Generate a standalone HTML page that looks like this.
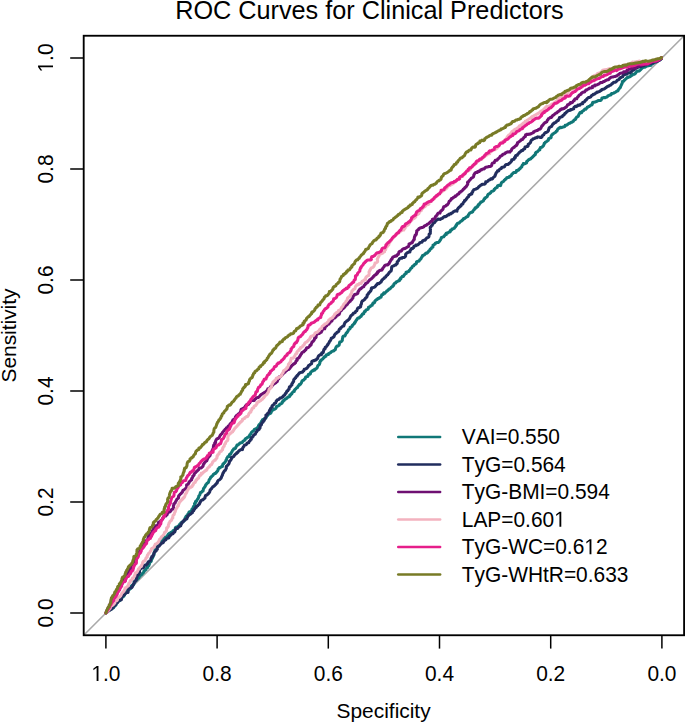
<!DOCTYPE html>
<html><head><meta charset="utf-8"><style>
html,body{margin:0;padding:0;background:#fff;}
svg{display:block;}
path{}
text{font-family:"Liberation Sans",sans-serif;fill:#000;font-kerning:none;font-feature-settings:"kern" 0;}
</style></head><body>
<svg width="685" height="723" viewBox="0 0 685 723">
<rect width="685" height="723" fill="#fff"/>
<line x1="83.66" y1="635.2" x2="684.14" y2="35.8" stroke="#A9A9A9" stroke-width="1.6"/>
<polyline fill="none" stroke="#107777" stroke-width="3.05" stroke-linejoin="round" stroke-linecap="round" points="105.9,613.0 106.5,612.6 107.0,612.1 107.6,611.7 108.1,611.2 108.6,610.8 109.2,610.3 109.8,609.9 110.3,609.5 111.0,609.1 111.8,609.0 112.2,608.4 112.7,607.9 113.6,607.8 113.8,607.0 114.4,606.6 114.8,606.0 115.3,605.5 116.0,605.2 116.1,604.3 116.4,603.6 116.5,602.8 117.0,602.3 117.4,601.6 118.3,601.5 118.6,600.9 119.6,600.8 119.9,600.2 120.5,599.8 120.9,599.2 121.4,598.7 121.6,597.9 122.1,597.5 122.7,597.0 123.3,596.6 123.9,596.2 124.2,595.5 124.6,594.9 124.8,594.2 124.8,593.2 125.4,592.7 125.6,592.0 126.0,591.4 126.9,591.3 127.4,590.8 127.7,590.1 128.3,589.7 129.0,589.4 129.8,589.2 130.0,588.4 130.8,588.3 131.1,587.6 131.2,586.7 131.4,585.8 132.1,585.5 132.7,585.2 133.5,584.9 133.7,584.1 134.0,583.5 134.2,582.7 134.1,581.6 134.5,581.0 135.4,580.9 136.1,580.7 136.4,579.9 137.1,579.7 137.4,579.0 138.0,578.5 138.6,578.2 139.0,577.5 139.2,576.8 139.9,576.4 140.3,575.9 140.6,575.2 141.3,574.9 141.8,574.4 142.4,574.0 142.6,573.2 143.3,572.9 143.6,572.2 144.0,571.6 144.0,570.7 144.8,570.5 145.4,570.0 146.0,569.7 146.0,568.7 146.6,568.2 146.9,567.6 147.7,567.4 147.7,566.4 148.3,566.0 148.9,565.7 149.0,564.7 149.4,564.2 149.5,563.2 149.9,562.6 150.3,562.0 150.9,561.7 151.3,561.0 151.3,560.1 151.7,559.5 152.0,558.7 152.5,558.2 152.5,557.3 153.0,556.8 153.3,556.1 153.5,555.3 154.0,554.8 154.1,553.9 154.1,553.0 154.5,552.3 154.7,551.5 154.9,550.8 155.0,549.9 155.2,549.1 155.7,548.6 156.5,548.4 156.4,547.3 157.1,547.0 157.6,546.5 158.3,546.2 158.7,545.6 158.9,544.9 159.3,544.2 159.5,543.5 159.6,542.5 160.0,542.0 160.6,541.5 161.0,540.9 161.5,540.5 161.6,539.6 162.3,539.3 162.7,538.7 163.2,538.2 163.8,537.8 164.1,537.1 165.2,537.2 165.9,537.0 166.7,536.7 167.2,536.2 167.4,535.4 168.0,535.0 168.2,534.3 168.7,533.8 169.3,533.3 170.1,533.1 170.7,532.7 171.2,532.3 172.1,532.2 172.6,531.6 172.9,531.0 173.3,530.4 174.3,530.4 174.8,529.9 175.2,529.3 175.2,528.3 175.5,527.6 176.1,527.2 176.8,526.9 177.8,526.9 178.1,526.2 178.7,525.8 179.5,525.6 179.4,524.5 180.5,524.6 180.6,523.7 180.8,522.9 181.5,522.6 182.0,522.1 182.8,521.9 183.4,521.5 183.9,521.0 184.3,520.4 184.6,519.7 185.2,519.3 185.1,518.2 185.4,517.5 186.1,517.2 186.1,516.2 186.7,515.8 187.3,515.4 187.7,514.8 187.9,514.0 188.4,513.5 188.8,512.9 189.0,512.1 189.8,511.9 190.4,511.5 190.9,511.0 191.5,510.6 192.1,510.2 192.0,509.1 193.0,509.1 192.9,508.0 193.3,507.4 193.4,506.5 193.9,506.0 194.4,505.5 194.9,505.0 194.5,503.6 195.1,503.2 195.6,502.7 195.5,501.6 196.3,501.4 196.7,500.8 196.9,500.0 197.4,499.5 197.7,498.8 198.2,498.3 198.5,497.6 198.7,496.8 198.8,495.9 199.4,495.5 199.8,494.9 200.0,494.1 200.2,493.3 200.4,492.5 201.3,492.4 201.8,491.9 202.2,491.3 203.0,491.1 203.2,490.3 203.3,489.4 203.5,488.6 204.0,488.1 204.4,487.5 204.7,486.8 205.2,486.3 205.5,485.6 205.7,484.8 206.3,484.4 206.7,483.8 207.1,483.2 207.8,482.9 208.4,482.5 208.6,481.7 208.9,481.0 209.1,480.2 209.3,479.4 209.9,479.0 210.3,478.4 210.6,477.7 210.8,476.9 211.6,476.7 212.0,476.1 212.6,475.7 213.1,475.2 213.3,474.4 214.0,474.1 214.5,473.6 215.4,473.5 216.0,473.1 216.2,472.3 216.7,471.8 217.2,471.3 217.7,470.8 218.0,470.1 218.1,469.2 218.5,468.6 219.2,468.3 219.4,467.5 220.4,467.5 221.0,467.1 221.4,466.5 222.4,466.5 222.5,465.6 222.7,464.8 222.9,464.0 223.7,463.8 224.0,463.1 224.6,462.7 225.1,462.2 225.4,461.5 225.9,461.0 226.0,460.1 226.6,459.7 226.7,458.8 226.9,458.0 227.4,457.5 227.7,456.8 228.5,456.6 229.3,456.4 229.2,455.3 229.6,454.7 229.9,454.0 230.9,454.0 231.1,453.2 231.4,452.5 231.8,451.9 232.2,451.3 232.4,450.5 233.0,450.1 233.4,449.5 233.7,448.8 234.7,448.8 235.3,448.4 235.7,447.8 235.9,447.0 236.4,446.5 236.7,445.8 237.0,445.1 237.9,445.0 238.5,444.6 238.9,444.0 239.6,443.7 240.0,443.1 240.6,442.7 241.7,442.8 242.3,442.4 242.7,441.8 243.0,441.1 243.7,440.8 244.3,440.4 245.0,440.1 245.1,439.2 245.6,438.7 246.2,438.3 246.9,438.0 247.5,437.6 248.0,437.1 248.9,437.0 249.5,436.6 249.5,435.6 249.8,434.9 250.3,434.4 250.9,434.0 251.1,433.2 251.3,432.4 251.9,432.0 252.5,431.6 253.0,431.1 253.6,430.7 254.1,430.2 254.3,429.4 255.0,429.1 255.7,428.8 256.5,428.6 257.0,428.1 257.5,427.6 258.0,427.1 258.5,426.6 258.5,425.6 258.9,425.0 259.3,424.4 259.9,424.0 260.4,423.5 260.8,422.9 261.2,422.3 261.3,421.4 261.9,421.0 262.2,420.3 262.6,419.7 263.3,419.4 264.0,419.1 264.4,418.5 265.3,418.4 265.9,418.0 266.3,417.4 266.5,416.6 266.8,415.9 267.5,415.6 267.4,414.5 268.4,414.5 269.0,414.1 269.4,413.5 270.4,413.5 270.9,413.0 271.1,412.2 271.5,411.6 271.7,410.8 272.0,410.1 273.0,410.1 273.6,409.7 274.1,409.2 274.9,409.0 275.6,408.7 276.0,408.1 276.3,407.4 276.4,406.5 277.2,406.3 277.8,405.9 278.6,405.7 279.2,405.3 279.5,404.6 279.9,404.0 280.9,404.0 281.4,403.5 282.1,403.2 282.1,402.2 282.5,401.6 283.3,401.4 283.4,400.5 284.2,400.3 284.6,399.7 285.0,399.1 285.9,399.0 286.3,398.4 287.1,398.2 287.4,397.5 288.0,397.1 288.8,396.9 289.5,396.6 289.9,396.0 289.8,394.9 290.7,394.8 291.0,394.1 291.8,393.9 292.1,393.2 292.4,392.5 292.9,392.0 293.4,391.5 294.3,391.4 294.3,390.4 294.7,389.8 295.2,389.3 295.8,388.9 296.2,388.3 296.7,387.8 297.5,387.6 297.8,386.9 298.1,386.2 298.5,385.6 299.2,385.3 299.3,384.4 300.3,384.4 300.7,383.8 301.1,383.2 301.5,382.6 301.7,381.8 302.0,381.1 302.5,380.6 303.1,380.2 303.9,380.0 304.3,379.4 304.7,378.8 305.4,378.5 305.4,377.5 305.8,376.9 306.6,376.7 307.5,376.6 308.0,376.1 308.1,375.2 308.4,374.5 309.1,374.2 310.1,374.2 310.5,373.6 310.5,372.6 310.9,372.0 311.5,371.6 312.1,371.2 312.5,370.6 313.5,370.6 313.8,369.9 314.9,370.0 315.0,369.1 315.7,368.8 316.4,368.5 317.0,368.1 317.2,367.3 317.6,366.7 317.7,365.8 318.2,365.3 318.8,364.9 319.4,364.5 319.6,363.7 319.9,363.0 319.8,361.9 320.3,361.4 320.5,360.6 321.3,360.4 321.6,359.7 322.3,359.4 322.7,358.8 323.2,358.3 323.7,357.8 324.0,357.1 324.8,356.9 325.2,356.3 326.1,356.2 326.1,355.2 326.6,354.7 327.5,354.6 328.4,354.5 328.5,353.6 329.2,353.3 329.9,353.0 330.6,352.7 331.1,352.2 331.5,351.6 332.2,351.3 332.9,351.0 333.8,350.9 334.3,350.4 334.7,349.8 335.4,349.5 335.5,348.6 335.8,347.9 336.1,347.2 336.5,346.6 337.0,346.1 337.9,346.0 338.5,345.6 339.1,345.2 339.3,344.4 339.4,343.5 339.6,342.7 339.8,341.9 340.7,341.8 341.4,341.5 341.9,341.0 342.3,340.4 342.3,339.4 342.5,338.6 342.7,337.8 342.8,336.9 343.2,336.3 344.0,336.1 344.9,336.0 345.2,335.3 345.5,334.6 345.9,334.0 346.1,333.2 346.7,332.8 347.2,332.3 347.6,331.7 348.0,331.1 348.3,330.4 348.5,329.6 349.2,329.3 349.8,328.9 350.2,328.3 350.1,327.2 351.1,327.2 351.6,326.7 352.2,326.3 352.3,325.4 352.8,324.9 353.4,324.5 353.8,323.9 354.5,323.6 354.5,322.6 355.2,322.3 355.5,321.6 355.8,320.9 356.2,320.3 356.7,319.8 357.1,319.2 357.4,318.5 357.9,318.0 359.0,318.1 359.6,317.7 359.8,316.9 360.5,316.6 361.2,316.3 361.3,315.4 362.1,315.2 362.2,314.3 362.7,313.8 363.7,313.8 363.8,312.9 364.2,312.3 364.4,311.5 365.3,311.4 365.6,310.7 366.0,310.1 366.6,309.7 367.4,309.5 368.1,309.2 368.4,308.5 368.4,307.5 369.1,307.2 369.7,306.8 370.4,306.5 370.7,305.8 371.3,305.4 372.2,305.3 372.3,304.4 372.8,303.9 373.0,303.1 373.9,303.0 374.5,302.6 374.8,301.9 374.9,301.0 375.5,300.6 376.0,300.1 376.5,299.6 377.4,299.5 377.6,298.7 378.3,298.4 379.2,298.3 379.5,297.6 380.2,297.3 381.1,297.2 381.2,296.3 381.6,295.7 381.7,294.8 382.3,294.4 383.3,294.4 383.4,293.5 383.8,292.9 385.0,293.1 385.3,292.4 385.9,292.0 386.5,291.6 386.8,290.9 387.6,290.7 388.1,290.2 388.6,289.7 389.0,289.1 389.9,289.0 390.4,288.5 390.8,287.9 391.2,287.3 391.8,286.9 392.5,286.6 392.7,285.8 393.5,285.6 393.8,284.9 393.9,284.0 394.4,283.5 395.0,283.1 395.9,283.0 396.1,282.2 396.6,281.7 397.4,281.5 397.9,281.0 398.8,280.9 399.5,280.6 399.6,279.7 400.0,279.1 400.8,278.9 400.7,277.8 401.4,277.5 401.9,277.0 402.3,276.4 403.4,276.5 403.7,275.8 404.1,275.2 404.5,274.6 405.0,274.1 405.6,273.7 406.3,273.4 406.1,272.2 406.9,272.0 407.7,271.8 408.5,271.6 409.1,271.2 409.2,270.3 409.9,270.0 410.3,269.4 410.6,268.7 411.1,268.2 411.8,267.9 412.1,267.2 412.3,266.4 412.9,266.0 413.7,265.8 414.1,265.2 414.6,264.7 415.1,264.2 415.9,264.0 416.4,263.5 416.4,262.5 416.6,261.7 417.4,261.5 418.2,261.3 419.0,261.1 419.4,260.5 419.7,259.8 420.3,259.4 420.8,258.9 421.2,258.3 421.4,257.5 422.0,257.1 422.2,256.3 422.5,255.6 423.4,255.5 423.8,254.9 424.6,254.7 425.0,254.1 425.5,253.6 426.0,253.1 427.0,253.1 427.5,252.6 428.0,252.1 428.5,251.6 428.8,250.9 429.6,250.7 429.9,250.0 430.1,249.2 430.7,248.8 431.4,248.5 431.6,247.7 432.3,247.4 432.9,247.0 433.0,246.1 433.0,245.1 433.7,244.8 434.3,244.4 435.0,244.1 435.2,243.3 436.0,243.1 436.6,242.7 437.3,242.4 438.3,242.4 438.9,242.0 439.4,241.5 439.8,240.9 440.1,240.2 440.6,239.7 440.9,239.0 441.2,238.3 441.3,237.4 442.2,237.3 442.8,236.9 443.7,236.8 444.1,236.2 444.6,235.7 445.0,235.1 445.3,234.4 446.3,234.4 446.2,233.3 447.0,233.1 447.9,233.0 448.3,232.4 448.9,232.0 449.8,231.9 450.4,231.5 450.4,230.5 450.8,229.9 451.7,229.8 452.0,229.1 452.9,229.0 453.4,228.5 454.2,228.3 454.6,227.7 455.1,227.2 455.6,226.7 455.7,225.8 456.5,225.6 456.5,224.6 457.1,224.2 457.4,223.5 458.1,223.2 459.0,223.1 459.5,222.6 459.9,222.0 460.5,221.6 461.1,221.2 461.8,220.9 462.1,220.2 462.9,220.0 463.1,219.2 463.5,218.6 464.5,218.6 465.0,218.1 465.6,217.7 466.1,217.2 466.7,216.8 467.6,216.7 468.1,216.2 468.2,215.3 468.6,214.7 469.1,214.2 469.4,213.5 469.8,212.9 470.6,212.7 471.2,212.3 472.1,212.2 472.7,211.8 472.9,211.0 473.4,210.5 473.8,209.9 474.3,209.4 475.0,209.1 475.0,208.1 475.5,207.6 476.5,207.6 476.7,206.8 477.5,206.6 478.0,206.1 478.1,205.2 478.4,204.5 479.3,204.4 479.6,203.7 480.1,203.2 480.6,202.7 480.8,201.9 481.7,201.8 482.4,201.5 483.0,201.1 483.5,200.6 483.8,199.9 484.1,199.2 484.8,198.9 484.8,197.9 485.6,197.7 486.2,197.3 486.8,196.9 487.3,196.4 487.5,195.6 487.8,194.9 488.2,194.3 488.8,193.9 489.6,193.7 490.1,193.2 490.7,192.8 490.9,192.0 491.5,191.6 492.1,191.2 492.9,191.0 493.6,190.7 494.1,190.2 494.2,189.3 495.0,189.1 495.2,188.3 495.8,187.9 496.5,187.6 497.2,187.3 497.4,186.5 497.6,185.7 498.4,185.5 499.2,185.3 500.5,185.6 500.8,184.9 501.0,184.1 501.2,183.3 501.6,182.7 502.0,182.1 502.7,181.8 503.4,181.5 503.9,181.0 504.2,180.3 504.8,179.9 505.2,179.3 506.0,179.1 506.4,178.5 506.7,177.8 507.5,177.6 508.3,177.4 509.2,177.3 509.4,176.5 510.1,176.2 510.9,176.0 511.4,175.5 511.6,174.7 512.0,174.1 512.6,173.7 513.1,173.2 513.6,172.7 514.3,172.4 515.3,172.4 516.1,172.2 516.4,171.5 516.4,170.5 517.4,170.5 518.2,170.3 518.8,169.9 518.9,169.0 519.8,168.9 520.3,168.4 520.6,167.7 521.2,167.3 521.8,166.9 521.9,166.0 522.2,165.3 522.7,164.8 523.3,164.4 523.4,163.5 524.6,163.7 525.4,163.5 526.0,163.1 526.7,162.8 526.6,161.7 527.1,161.2 527.7,160.8 528.1,160.2 528.7,159.8 529.2,159.3 530.1,159.2 530.8,158.9 531.1,158.2 531.8,157.9 532.2,157.3 532.7,156.8 533.2,156.3 533.7,155.8 534.2,155.3 534.8,154.9 535.4,154.5 535.3,153.4 535.8,152.9 536.1,152.2 537.0,152.1 537.6,151.7 537.9,151.0 538.5,150.6 539.1,150.2 539.8,149.9 539.7,148.8 540.2,148.3 540.4,147.5 541.3,147.4 542.0,147.1 542.5,146.6 543.0,146.1 543.5,145.6 543.8,144.9 544.1,144.2 544.2,143.3 545.0,143.1 545.2,142.3 545.8,141.9 546.5,141.6 547.1,141.2 547.6,140.7 548.2,140.3 548.5,139.6 548.6,138.7 549.3,138.4 550.0,138.1 550.7,137.8 551.2,137.3 551.1,136.2 551.5,135.6 551.8,134.9 552.5,134.6 552.8,133.9 553.5,133.6 554.1,133.2 554.7,132.8 555.3,132.4 555.9,132.0 556.2,131.3 557.0,131.1 557.2,130.3 557.5,129.6 557.9,129.0 558.6,128.7 558.9,128.0 559.9,128.0 560.2,127.3 561.5,127.6 562.2,127.3 563.0,127.1 563.7,126.8 564.6,126.7 565.0,126.1 565.2,125.3 566.1,125.2 566.9,125.0 567.5,124.6 568.0,124.1 568.6,123.7 569.2,123.3 570.1,123.2 570.6,122.7 571.2,122.3 572.1,122.2 572.6,121.7 573.3,121.4 573.6,120.7 574.1,120.2 574.6,119.7 575.4,119.5 575.8,118.9 575.9,118.0 576.5,117.6 576.8,116.9 577.6,116.7 578.2,116.3 578.5,115.6 578.7,114.8 579.1,114.2 579.5,113.6 579.8,112.9 580.3,112.4 581.6,112.7 581.8,111.9 582.2,111.3 582.9,111.0 583.6,110.7 584.0,110.1 584.5,109.6 584.9,109.0 586.0,109.1 586.3,108.4 586.9,108.0 587.2,107.3 588.0,107.1 588.4,106.5 589.4,106.5 589.8,105.9 590.4,105.5 591.0,105.1 591.8,104.9 592.3,104.4 592.4,103.5 592.6,102.7 593.1,102.2 594.1,102.2 595.0,102.1 595.7,101.8 596.5,101.6 597.1,101.2 597.7,100.8 598.4,100.5 599.4,100.5 600.4,100.5 601.1,100.2 601.4,99.5 601.9,99.0 601.9,98.0 602.8,97.9 603.5,97.6 604.5,97.6 605.5,97.6 606.1,97.2 606.9,97.0 607.5,96.6 607.8,95.9 608.5,95.6 609.2,95.3 609.9,95.0 610.9,95.0 611.3,94.4 611.5,93.6 612.3,93.4 613.2,93.3 613.9,93.0 614.5,92.6 615.2,92.3 615.8,91.9 616.4,91.5 616.9,91.0 617.8,90.9 618.2,90.3 618.4,89.5 619.0,89.1 619.4,88.5 619.7,87.8 620.4,87.5 620.6,86.7 620.9,86.0 621.2,85.3 621.5,84.6 621.8,83.9 622.2,83.3 622.3,82.4 622.4,81.5 623.4,81.5 623.9,81.0 624.2,80.3 624.8,79.9 625.3,79.4 625.9,78.9 626.4,78.4 626.9,77.9 627.4,77.3 628.4,77.4 629.0,76.9 629.8,76.7 630.5,76.5 630.7,75.6 631.6,75.5 632.3,75.2 632.5,74.3 633.5,74.3 634.4,74.2 635.0,73.8 635.5,73.2 635.8,72.6 636.3,72.1 636.8,71.5 637.6,71.3 638.3,71.0 639.2,70.9 639.8,70.5 640.3,70.0 640.8,69.4 641.3,68.9 641.8,68.4 642.4,68.0 643.0,67.6 643.6,67.1 644.8,67.3 645.4,66.9 646.0,66.5 646.6,66.1 647.5,65.9 648.3,65.8 649.0,65.5 650.0,65.4 650.9,65.3 651.3,64.7 651.8,64.1 652.3,63.7 653.1,63.5 653.7,63.1 654.2,62.5 654.9,62.1 655.6,61.9 656.4,61.6 657.1,61.3 657.8,61.0 658.5,60.7 659.1,60.3 659.7,59.8 660.2,59.3 660.8,58.9 661.4,58.5 661.4,57.5"/>
<polyline fill="none" stroke="#212D5E" stroke-width="3.05" stroke-linejoin="round" stroke-linecap="round" points="105.9,613.0 106.4,612.5 107.0,612.1 107.6,611.7 108.1,611.2 108.6,610.7 109.3,610.4 109.9,610.1 110.6,609.7 111.2,609.4 111.6,608.8 112.3,608.5 112.6,607.7 113.0,607.2 113.5,606.7 113.6,605.8 114.1,605.3 115.0,605.3 115.5,604.7 115.7,603.9 116.2,603.4 116.9,603.1 117.4,602.7 117.9,602.1 118.0,601.2 118.6,600.8 119.2,600.4 119.9,600.2 120.8,600.1 121.4,599.7 121.5,598.8 121.6,597.9 121.8,597.1 122.3,596.6 122.5,595.9 123.3,595.6 123.8,595.1 124.3,594.6 124.9,594.2 125.4,593.7 125.4,592.8 126.4,592.8 127.2,592.6 128.0,592.4 128.2,591.6 128.2,590.6 128.2,589.6 128.4,588.8 129.0,588.4 129.6,588.1 130.4,587.8 131.3,587.8 131.8,587.3 132.3,586.8 132.6,586.1 132.9,585.4 133.0,584.5 133.5,584.0 134.0,583.5 134.3,582.8 134.4,581.9 134.9,581.4 135.6,581.1 135.9,580.4 136.3,579.8 136.4,579.0 136.6,578.2 136.8,577.4 137.0,576.6 137.2,575.7 137.6,575.1 138.2,574.8 138.3,573.9 139.0,573.6 139.3,572.9 139.6,572.2 139.5,571.1 139.3,570.0 140.0,569.6 140.3,568.9 141.0,568.6 141.6,568.2 142.2,567.8 143.1,567.8 143.7,567.4 143.5,566.1 143.7,565.3 144.5,565.2 145.7,565.3 146.3,565.0 146.7,564.4 147.0,563.7 147.8,563.5 147.9,562.6 148.2,561.9 148.8,561.6 149.4,561.1 149.9,560.6 150.6,560.4 150.8,559.5 150.9,558.6 151.2,558.0 151.6,557.3 151.8,556.6 152.7,556.5 152.8,555.6 153.3,555.1 153.5,554.3 153.9,553.7 154.1,552.9 154.3,552.1 155.0,551.9 155.3,551.2 156.2,551.0 156.4,550.2 156.7,549.6 157.4,549.3 157.3,548.2 157.4,547.2 157.9,546.8 158.5,546.4 159.2,546.1 159.6,545.5 159.7,544.7 160.5,544.4 161.1,544.0 161.3,543.3 161.9,542.8 162.9,542.8 163.4,542.4 163.6,541.6 164.1,541.0 164.5,540.5 165.1,540.1 165.9,539.8 166.1,539.1 166.5,538.5 167.3,538.3 168.0,538.0 168.8,537.9 169.0,537.0 169.2,536.3 170.0,536.1 170.3,535.3 170.9,535.0 171.4,534.5 171.8,533.8 172.7,533.8 173.2,533.3 173.6,532.7 174.2,532.3 174.8,531.9 175.0,531.1 175.3,530.4 175.5,529.6 175.6,528.7 176.4,528.5 177.3,528.4 178.1,528.2 178.2,527.3 178.8,526.9 179.5,526.6 179.9,526.0 180.7,525.8 180.9,525.0 181.2,524.3 181.6,523.7 181.9,523.0 182.2,522.3 183.0,522.1 183.3,521.4 183.7,520.8 184.0,520.1 185.1,520.2 185.3,519.4 185.9,519.0 186.9,519.0 187.1,518.2 187.3,517.4 187.7,516.8 187.8,515.9 188.6,515.7 188.9,515.0 189.6,514.7 190.2,514.3 190.7,513.8 191.4,513.5 191.8,512.9 192.5,512.6 192.6,511.7 192.9,511.0 193.7,510.8 193.7,509.8 194.3,509.4 194.8,508.9 195.1,508.2 195.4,507.5 196.3,507.4 196.4,506.5 197.1,506.2 197.7,505.8 198.1,505.2 198.6,504.7 199.2,504.3 199.6,503.7 199.7,502.8 200.2,502.3 200.5,501.6 200.8,500.9 201.3,500.4 201.9,500.0 202.8,499.9 203.3,499.4 203.8,498.9 204.4,498.5 205.0,498.1 205.0,497.1 205.3,496.4 205.5,495.6 206.1,495.2 206.9,495.0 207.5,494.6 207.8,493.9 208.5,493.6 208.8,492.9 209.4,492.5 209.7,491.8 209.9,491.0 210.1,490.2 210.6,489.7 211.0,489.1 211.6,488.7 211.8,487.9 212.4,487.5 212.7,486.8 213.4,486.5 214.1,486.2 214.5,485.6 215.0,485.1 215.5,484.6 216.0,484.1 216.4,483.5 217.1,483.2 217.4,482.5 217.4,481.5 217.9,481.0 218.3,480.4 219.0,480.1 219.6,479.7 220.1,479.2 220.6,478.7 221.1,478.2 221.4,477.5 221.6,476.7 221.9,476.0 222.4,475.5 222.4,474.5 222.8,473.9 223.0,473.1 223.5,472.6 223.7,471.8 224.2,471.3 224.6,470.7 225.3,470.4 225.6,469.7 225.9,469.0 226.3,468.4 226.2,467.3 226.3,466.4 227.0,466.1 227.4,465.5 227.8,464.9 228.4,464.5 228.8,463.9 229.1,463.2 229.4,462.5 229.3,461.4 230.0,461.1 230.4,460.5 230.8,459.9 231.2,459.3 231.5,458.6 231.4,457.5 231.9,457.0 232.9,457.0 233.6,456.7 234.0,456.1 234.3,455.4 234.8,454.9 235.3,454.4 235.8,453.9 236.5,453.6 236.7,452.8 237.5,452.6 238.0,452.1 238.4,451.5 238.8,450.9 239.4,450.5 240.1,450.2 240.7,449.8 241.3,449.4 242.5,449.6 242.6,448.7 242.7,447.8 243.2,447.3 243.6,446.7 244.1,446.2 244.3,445.4 244.8,444.9 245.7,444.8 246.4,444.5 246.7,443.8 247.1,443.2 247.8,442.9 248.7,442.8 248.9,442.0 249.2,441.3 249.9,441.0 250.3,440.4 250.6,439.7 251.3,439.4 251.3,438.4 251.6,437.7 252.3,437.4 252.6,436.7 253.2,436.3 253.3,435.4 253.9,435.0 254.4,434.5 255.2,434.3 255.5,433.6 255.8,432.9 256.1,432.2 256.7,431.8 256.9,431.0 257.2,430.3 258.1,430.2 258.6,429.7 259.2,429.3 259.4,428.5 260.0,428.1 260.1,427.2 260.1,426.2 260.3,425.4 261.0,425.1 261.5,424.6 261.6,423.7 261.9,423.0 262.4,422.5 263.1,422.2 263.0,421.1 263.7,420.8 264.3,420.4 264.5,419.6 264.8,418.9 265.2,418.3 265.5,417.6 265.9,417.0 266.0,416.1 265.9,415.0 266.8,414.9 267.2,414.3 267.5,413.6 268.0,413.1 268.6,412.7 269.1,412.2 269.2,411.3 269.5,410.6 269.8,409.9 270.3,409.4 270.5,408.6 271.0,408.1 271.4,407.5 272.2,407.3 272.0,406.1 272.4,405.5 273.0,405.1 273.6,404.7 274.1,404.2 274.4,403.5 275.1,403.2 275.7,402.8 276.0,402.1 276.1,401.2 276.7,400.8 277.0,400.1 277.6,399.7 278.5,399.6 279.0,399.1 279.5,398.6 280.0,398.1 280.8,397.9 281.6,397.7 282.1,397.2 282.7,396.8 283.2,396.3 283.6,395.7 284.3,395.4 284.8,394.9 285.1,394.2 285.3,393.4 286.1,393.2 286.4,392.5 286.6,391.7 287.1,391.2 287.8,390.9 287.9,390.0 288.5,389.6 289.1,389.2 289.2,388.3 289.3,387.4 289.6,386.7 290.5,386.6 290.7,385.8 291.3,385.4 291.9,385.0 291.8,383.9 292.2,383.3 292.7,382.8 292.9,382.0 293.6,381.7 293.7,380.8 293.7,379.8 294.1,379.2 294.7,378.8 295.0,378.1 295.7,377.8 295.9,377.0 296.3,376.4 297.2,376.3 297.2,375.3 297.9,375.0 298.3,374.4 298.7,373.8 299.3,373.4 299.6,372.7 300.5,372.6 301.2,372.3 302.2,372.3 302.8,371.9 303.1,371.2 303.8,370.9 303.9,370.0 304.2,369.3 305.1,369.2 305.8,368.9 306.3,368.4 307.1,368.2 307.4,367.5 308.0,367.1 308.2,366.3 308.6,365.7 309.1,365.2 309.9,365.0 310.3,364.4 311.0,364.1 311.6,363.7 311.7,362.8 311.7,361.8 312.1,361.2 312.9,361.0 313.5,360.6 314.5,360.6 315.0,360.1 315.9,360.0 316.5,359.6 316.8,358.9 317.5,358.6 317.8,357.9 318.0,357.1 318.3,356.4 318.7,355.8 319.2,355.3 319.9,355.0 320.5,354.6 321.5,354.6 321.5,353.6 321.8,352.9 322.9,353.0 323.3,352.4 323.4,351.5 323.6,350.7 323.8,349.9 324.1,349.2 325.0,349.1 325.0,348.1 325.2,347.3 326.0,347.1 326.4,346.5 326.9,346.0 327.2,345.3 327.8,344.9 327.9,344.0 328.5,343.6 328.9,343.0 329.2,342.3 329.4,341.5 330.0,341.1 330.4,340.5 330.7,339.8 331.1,339.2 331.2,338.3 331.8,337.9 332.6,337.7 333.2,337.3 333.7,336.8 334.2,336.3 334.3,335.4 334.7,334.8 335.1,334.2 335.6,333.7 336.3,333.4 336.7,332.8 337.1,332.2 337.9,332.0 338.5,331.6 338.9,331.0 339.0,330.1 339.3,329.4 339.8,328.9 340.5,328.6 340.7,327.8 341.3,327.4 341.9,327.0 342.4,326.5 342.9,326.0 343.8,325.9 344.1,325.2 344.2,324.3 344.6,323.7 344.8,322.9 345.2,322.3 345.8,321.9 346.4,321.5 346.8,320.9 347.5,320.6 348.0,320.1 348.6,319.7 349.1,319.2 349.5,318.6 349.8,317.9 350.2,317.3 350.4,316.5 350.8,315.9 351.3,315.4 352.0,315.1 352.4,314.5 353.1,314.2 353.3,313.4 353.8,312.9 354.7,312.8 355.3,312.4 355.5,311.6 356.1,311.2 356.7,310.8 357.0,310.1 357.2,309.3 357.6,308.7 357.9,308.0 358.7,307.8 359.4,307.5 360.0,307.1 360.7,306.8 360.6,305.7 360.8,304.9 361.3,304.4 361.4,303.5 361.6,302.7 361.7,301.8 362.2,301.3 362.6,300.7 363.4,300.5 363.9,300.0 364.5,299.6 365.0,299.1 365.3,298.4 365.7,297.8 366.4,297.5 366.9,297.0 367.1,296.2 367.1,295.2 367.6,294.7 368.1,294.2 368.5,293.6 368.7,292.8 369.3,292.4 369.9,292.0 370.2,291.3 370.8,290.9 371.0,290.1 371.4,289.5 371.3,288.4 371.7,287.8 372.7,287.8 373.3,287.4 374.2,287.3 374.8,286.9 375.3,286.4 375.8,285.9 376.1,285.2 376.7,284.8 377.0,284.1 377.5,283.6 378.7,283.8 379.3,283.4 379.7,282.8 380.4,282.5 381.0,282.1 381.4,281.5 381.6,280.7 382.1,280.2 382.5,279.6 383.0,279.1 383.6,278.7 384.2,278.3 384.5,277.6 385.2,277.3 385.8,276.9 386.0,276.1 386.6,275.7 387.1,275.2 387.7,274.8 388.0,274.1 388.5,273.6 389.0,273.1 389.2,272.3 389.9,272.0 390.4,271.5 391.0,271.1 391.3,270.4 391.4,269.5 391.6,268.7 391.6,267.7 391.8,266.9 392.3,266.4 393.0,266.1 393.7,265.8 394.4,265.5 395.0,265.1 395.9,265.0 396.2,264.3 396.8,263.9 397.3,263.4 397.1,262.2 397.5,261.6 398.0,261.1 398.5,260.6 398.9,260.0 399.2,259.3 399.6,258.7 400.3,258.4 401.0,258.1 402.0,258.1 402.3,257.4 403.3,257.4 404.4,257.5 404.8,256.9 405.4,256.5 405.7,255.8 405.6,254.7 405.8,253.9 406.4,253.5 407.0,253.1 407.5,252.6 408.2,252.3 408.9,252.0 409.9,252.0 410.0,251.1 410.3,250.4 410.7,249.8 411.0,249.1 411.4,248.5 412.5,248.6 412.9,248.0 413.6,247.7 413.8,246.9 414.1,246.2 414.9,246.0 415.7,245.8 415.9,245.0 417.0,245.1 417.7,244.8 418.2,244.3 418.9,244.0 419.4,243.5 419.7,242.8 420.3,242.4 421.2,242.3 422.1,242.2 422.3,241.4 422.7,240.8 423.3,240.4 424.1,240.2 425.1,240.2 425.5,239.6 425.8,238.9 426.4,238.5 426.8,237.9 427.5,237.6 428.2,237.3 428.8,236.9 429.0,236.1 429.1,235.2 429.1,234.2 429.7,233.8 430.3,233.4 430.3,232.4 430.4,231.5 430.3,230.4 430.5,229.6 430.3,228.4 430.2,227.3 430.7,226.8 431.2,226.3 431.5,225.6 432.2,225.3 432.4,224.5 433.0,224.1 433.2,223.3 433.6,222.7 434.5,222.6 434.8,221.9 435.4,221.5 435.7,220.8 436.1,220.2 436.8,219.9 437.6,219.7 437.9,219.0 439.2,219.3 440.3,219.4 440.7,218.8 441.6,218.7 442.3,218.4 442.8,217.9 443.2,217.3 443.9,217.0 444.5,216.6 445.6,216.7 446.3,216.4 446.7,215.8 447.2,215.3 447.9,215.0 448.8,214.9 449.1,214.2 449.8,213.9 450.8,213.9 451.1,213.2 452.0,213.1 452.5,212.6 453.1,212.2 453.5,211.6 454.2,211.3 454.9,211.0 455.7,210.8 457.0,211.1 457.0,210.1 457.4,209.5 457.7,208.8 458.2,208.3 458.6,207.7 459.2,207.3 459.7,206.8 460.2,206.3 461.0,206.1 461.1,205.2 461.5,204.6 462.1,204.2 462.9,204.0 463.1,203.2 463.3,202.4 463.9,202.0 464.4,201.5 464.5,200.6 465.3,200.4 465.8,199.9 466.2,199.3 466.6,198.7 467.1,198.2 467.4,197.5 468.0,197.1 468.6,196.7 468.8,195.9 468.9,195.0 469.8,194.9 470.2,194.3 471.2,194.3 471.8,193.9 471.7,192.8 472.4,192.5 472.7,191.8 472.8,190.9 473.4,190.5 473.7,189.8 474.3,189.4 475.2,189.3 476.0,189.1 476.6,188.7 477.2,188.3 477.9,188.0 478.3,187.4 478.7,186.8 479.2,186.3 479.9,186.0 480.4,185.5 481.0,185.1 481.7,184.8 482.1,184.2 483.1,184.2 484.1,184.2 484.9,184.0 485.4,183.5 485.6,182.7 485.7,181.8 486.7,181.8 487.4,181.5 488.0,181.1 488.3,180.4 488.9,180.0 489.7,179.8 490.4,179.5 490.7,178.8 492.0,179.1 492.6,178.7 492.8,177.9 493.4,177.5 493.9,177.0 494.5,176.6 495.0,176.1 495.1,175.2 495.6,174.7 495.7,173.8 496.1,173.2 496.4,172.5 497.0,172.1 497.4,171.5 497.6,170.7 498.7,170.8 499.0,170.1 499.4,169.5 500.0,169.1 500.6,168.7 501.4,168.5 501.6,167.7 502.1,167.2 503.1,167.2 503.8,166.9 504.6,166.7 504.9,166.0 505.2,165.3 505.7,164.8 506.5,164.6 507.4,164.5 508.4,164.5 508.6,163.7 509.2,163.3 509.9,163.0 510.4,162.5 510.9,162.0 511.3,161.4 511.7,160.8 511.7,159.8 512.6,159.7 513.2,159.3 514.1,159.2 514.4,158.5 514.4,157.5 515.4,157.5 515.4,156.5 515.6,155.7 516.3,155.4 517.2,155.3 517.5,154.6 518.0,154.1 518.4,153.5 519.0,153.1 519.3,152.4 519.9,152.0 520.6,151.7 521.0,151.1 521.4,150.5 522.5,150.6 523.0,150.1 523.3,149.4 523.9,149.0 524.7,148.8 524.9,148.0 525.0,147.1 525.8,146.9 526.5,146.6 527.3,146.4 528.1,146.2 528.2,145.3 528.2,144.3 528.8,143.9 529.5,143.6 529.9,143.0 530.5,142.6 530.7,141.8 530.9,141.0 531.3,140.4 531.8,139.9 532.5,139.6 532.9,139.0 533.6,138.7 534.4,138.5 535.1,138.2 535.6,137.7 536.7,137.8 537.1,137.2 537.8,136.9 539.0,137.1 540.3,137.4 541.3,137.4 541.9,137.0 542.0,136.1 542.5,135.6 543.1,135.2 543.7,134.8 544.0,134.1 544.4,133.5 545.0,133.1 545.5,132.6 546.3,132.4 547.0,132.1 547.6,131.7 548.0,131.1 548.5,130.6 548.5,129.6 548.9,129.0 549.0,128.1 549.5,127.6 550.1,127.2 550.7,126.8 551.5,126.6 551.8,125.9 552.2,125.3 552.6,124.7 552.9,124.0 553.7,123.8 553.8,122.9 554.7,122.8 555.4,122.5 556.1,122.2 556.4,121.5 557.0,121.1 557.4,120.5 558.3,120.4 558.6,119.7 558.9,119.0 559.4,118.5 559.4,117.5 560.4,117.5 560.9,117.0 561.7,116.8 562.4,116.5 562.6,115.7 563.2,115.3 564.0,115.1 564.3,114.4 564.7,113.8 565.1,113.2 565.9,113.0 566.3,112.4 566.7,111.8 567.3,111.4 567.9,111.0 568.3,110.4 569.3,110.4 570.2,110.3 570.5,109.6 571.5,109.6 572.2,109.3 572.9,109.0 573.7,108.8 573.9,108.0 574.1,107.2 574.8,106.9 575.2,106.3 576.5,106.6 576.9,106.0 577.7,105.8 578.0,105.1 579.1,105.2 580.1,105.2 580.3,104.4 581.0,104.1 581.6,103.7 582.6,103.7 582.6,102.7 583.1,102.2 584.0,102.1 584.5,101.6 585.0,101.1 585.3,100.4 586.0,100.1 586.5,99.6 586.8,98.9 587.4,98.5 587.9,98.0 588.5,97.6 589.3,97.4 590.1,97.2 590.8,96.9 591.1,96.2 591.6,95.7 592.1,95.2 592.9,95.0 593.2,94.3 594.2,94.3 594.7,93.8 595.4,93.5 595.8,92.9 596.6,92.7 597.0,92.1 598.0,92.1 598.6,91.7 599.4,91.5 600.1,91.2 600.5,90.6 601.4,90.5 601.6,89.7 602.3,89.4 603.1,89.2 604.0,89.1 604.6,88.7 605.1,88.2 605.8,87.9 606.2,87.3 606.9,87.0 607.4,86.5 608.2,86.3 608.9,86.0 609.5,85.6 610.1,85.2 610.9,85.0 611.4,84.5 611.8,83.9 612.3,83.4 613.1,83.2 613.4,82.5 614.2,82.3 615.2,82.3 615.8,81.9 616.4,81.5 616.8,80.9 617.2,80.3 617.8,79.9 618.6,79.7 619.2,79.3 619.5,78.6 620.0,78.1 620.4,77.5 621.4,77.5 621.8,76.9 622.7,76.8 622.9,75.9 623.1,75.1 624.0,75.0 624.4,74.4 625.5,74.4 626.2,74.2 627.2,74.1 627.4,73.4 628.2,73.1 628.8,72.7 629.9,72.8 630.5,72.3 631.2,72.0 631.7,71.5 631.9,70.7 632.7,70.5 633.3,70.1 634.1,69.8 634.5,69.3 635.2,68.9 635.7,68.4 636.3,67.9 637.0,67.7 637.6,67.3 638.6,67.2 639.1,66.7 639.8,66.4 640.9,66.5 641.6,66.1 642.0,65.5 643.2,65.7 644.0,65.5 644.6,65.1 645.2,64.7 646.3,64.7 646.9,64.3 647.3,63.8 648.4,63.8 649.3,63.7 650.3,63.7 651.0,63.4 651.9,63.3 652.5,62.8 653.2,62.5 654.0,62.3 654.8,62.1 655.8,62.0 656.6,61.8 657.1,61.4 657.8,61.0 658.5,60.7 659.2,60.4 659.9,60.0 660.4,59.6 660.9,59.1 661.5,58.6 661.4,57.5"/>
<polyline fill="none" stroke="#6E1072" stroke-width="3.05" stroke-linejoin="round" stroke-linecap="round" points="105.9,613.0 106.2,612.3 106.5,611.7 106.8,610.9 107.1,610.2 107.4,609.6 107.7,608.9 108.2,608.3 108.2,607.4 108.8,607.0 109.5,606.6 109.6,605.7 109.8,605.0 110.0,604.2 110.2,603.4 110.8,603.0 111.0,602.2 111.1,601.3 111.6,600.8 112.3,600.5 112.5,599.7 112.9,599.1 112.8,598.1 113.4,597.7 114.3,597.6 114.8,597.1 115.2,596.4 115.0,595.2 115.2,594.5 115.0,593.3 115.6,592.9 116.4,592.7 117.1,592.4 117.5,591.8 117.9,591.3 118.1,590.5 118.6,589.9 119.0,589.4 119.4,588.8 119.1,587.5 119.6,587.0 120.1,586.5 120.4,585.7 120.9,585.3 121.6,585.0 121.5,583.9 122.2,583.6 122.5,582.9 122.7,582.1 123.2,581.6 123.5,580.9 123.8,580.3 124.0,579.5 124.3,578.8 124.5,578.0 124.8,577.3 124.9,576.4 125.0,575.5 125.7,575.1 126.0,574.5 126.5,574.0 127.3,573.8 127.8,573.3 128.2,572.7 128.2,571.7 128.8,571.3 129.2,570.8 129.9,570.4 130.2,569.8 130.5,569.1 130.4,567.9 130.9,567.5 130.9,566.5 131.2,565.8 131.7,565.3 132.1,564.7 132.5,564.1 133.0,563.6 132.9,562.5 133.3,561.9 134.0,561.6 134.6,561.3 134.6,560.3 135.2,559.9 135.7,559.4 135.8,558.5 135.8,557.5 136.1,556.8 136.8,556.5 137.3,556.0 137.5,555.2 137.9,554.6 138.5,554.2 138.9,553.6 139.2,552.9 139.7,552.4 139.6,551.3 140.1,550.9 140.2,549.9 140.6,549.3 141.1,548.9 141.5,548.3 141.7,547.5 142.0,546.8 142.7,546.4 142.7,545.5 142.8,544.6 143.3,544.1 143.9,543.7 144.2,543.0 144.4,542.2 144.9,541.7 145.1,540.9 146.0,540.8 146.6,540.5 147.5,540.3 147.6,539.4 147.8,538.7 148.1,538.0 148.1,537.0 148.4,536.3 149.0,535.9 149.1,535.0 149.4,534.4 150.2,534.2 150.7,533.6 151.3,533.2 151.7,532.6 151.9,531.8 152.2,531.2 152.7,530.6 152.9,529.9 153.3,529.3 153.6,528.6 154.0,528.0 154.8,527.8 155.4,527.4 155.4,526.4 155.8,525.8 156.7,525.7 157.6,525.6 157.7,524.7 158.2,524.3 158.6,523.7 158.4,522.5 159.0,522.0 160.0,522.0 160.3,521.3 160.7,520.7 161.4,520.5 161.8,519.9 162.2,519.3 162.8,518.9 162.9,518.0 163.5,517.6 163.7,516.8 164.2,516.3 165.0,516.1 165.9,516.0 166.2,515.3 166.8,514.9 167.3,514.4 167.3,513.4 167.8,512.9 168.3,512.4 168.9,512.0 169.9,512.0 170.4,511.5 170.8,510.9 171.2,510.3 171.6,509.7 172.1,509.2 173.0,509.1 173.1,508.2 173.6,507.7 173.4,506.5 173.4,505.5 173.9,505.0 173.8,503.9 174.3,503.4 175.1,503.2 175.3,502.4 175.6,501.7 176.0,501.1 176.3,500.4 176.7,499.8 177.0,499.1 177.6,498.7 178.2,498.3 178.6,497.7 178.5,496.6 178.7,495.8 179.2,495.3 179.8,494.9 180.1,494.2 180.7,493.8 181.3,493.4 181.6,492.7 182.2,492.3 182.6,491.7 182.7,490.8 183.1,490.2 183.9,490.0 184.4,489.5 184.9,489.0 185.6,488.7 186.2,488.3 186.7,487.8 186.7,486.8 186.6,485.7 186.6,484.7 187.6,484.7 188.2,484.3 188.3,483.4 188.9,483.0 189.0,482.1 189.5,481.6 190.1,481.2 190.5,480.6 191.1,480.2 191.7,479.8 191.6,478.7 192.0,478.1 192.5,477.6 192.8,476.9 192.8,475.9 193.6,475.7 194.0,475.1 194.3,474.4 194.4,473.5 194.9,473.0 195.6,472.7 195.9,472.0 196.5,471.6 197.0,471.1 197.5,470.6 198.0,470.1 198.6,469.7 198.9,469.0 199.1,468.2 199.9,468.0 200.9,468.0 201.6,467.7 202.0,467.1 202.6,466.7 203.0,466.1 203.2,465.3 203.4,464.5 203.7,463.8 204.3,463.4 204.5,462.6 205.1,462.2 205.5,461.6 206.1,461.2 206.7,460.8 207.0,460.1 207.3,459.4 207.6,458.7 207.9,458.0 208.2,457.3 208.9,457.0 209.2,456.3 209.8,455.9 210.2,455.3 210.3,454.4 210.6,453.7 211.0,453.1 211.5,452.6 211.6,451.7 212.1,451.2 212.2,450.3 212.5,449.6 212.9,449.0 213.3,448.4 213.4,447.5 213.4,446.5 213.6,445.7 213.8,444.9 214.7,444.8 214.7,443.8 214.7,442.8 215.6,442.7 215.5,441.6 215.7,440.8 216.1,440.2 216.4,439.5 216.8,438.9 217.5,438.6 218.4,438.5 218.8,437.9 219.3,437.4 219.6,436.7 219.9,436.0 220.2,435.3 220.8,434.9 221.1,434.2 221.7,433.8 222.2,433.3 222.4,432.5 222.9,432.0 223.4,431.5 223.8,430.9 224.3,430.4 224.9,430.0 225.1,429.2 225.9,429.0 226.2,428.3 226.6,427.7 227.4,427.5 228.1,427.2 228.1,426.2 228.7,425.8 229.5,425.6 229.7,424.8 230.0,424.1 230.8,423.9 230.9,423.0 231.8,422.9 232.0,422.1 232.3,421.4 232.6,420.7 232.9,420.0 233.6,419.7 234.2,419.3 234.7,418.8 235.2,418.3 235.3,417.4 235.6,416.7 236.3,416.4 236.5,415.6 237.4,415.5 237.8,414.9 238.0,414.1 238.7,413.8 239.5,413.6 239.8,412.9 240.2,412.3 240.5,411.6 240.9,411.0 240.9,410.0 241.2,409.3 242.1,409.2 242.5,408.6 243.2,408.3 243.9,408.0 244.5,407.6 244.9,407.0 245.3,406.4 245.6,405.7 246.2,405.3 246.6,404.7 247.3,404.4 248.3,404.4 248.9,404.0 249.1,403.2 249.7,402.8 250.1,402.2 250.4,401.5 250.7,400.8 251.1,400.2 252.3,400.4 253.5,400.6 254.4,400.5 254.6,399.7 255.0,399.1 255.7,398.8 256.1,398.2 256.7,397.8 257.4,397.5 258.3,397.4 258.9,397.0 259.4,396.5 259.9,396.0 260.3,395.4 260.8,394.9 261.3,394.4 262.0,394.1 262.6,393.7 263.1,393.2 264.0,393.1 264.4,392.5 265.1,392.2 265.8,391.9 266.2,391.3 266.7,390.8 267.3,390.4 267.6,389.7 267.8,388.9 269.0,389.1 269.4,388.5 269.8,387.9 270.2,387.3 270.6,386.7 271.3,386.4 272.0,386.1 272.3,385.4 272.8,384.9 273.4,384.5 273.8,383.9 274.5,383.6 275.0,383.1 275.7,382.8 275.9,382.0 276.8,381.9 277.3,381.4 277.5,380.6 277.8,379.9 278.1,379.2 278.8,378.9 278.7,377.8 279.0,377.1 279.8,376.9 280.6,376.7 280.9,376.0 281.4,375.5 282.0,375.1 282.4,374.5 282.7,373.8 283.4,373.5 283.9,373.0 284.4,372.5 285.1,372.2 285.3,371.4 285.6,370.7 286.6,370.7 286.9,370.0 287.6,369.7 288.5,369.6 289.0,369.1 289.5,368.6 290.0,368.1 290.3,367.4 290.9,367.0 291.3,366.4 291.7,365.8 292.1,365.2 292.8,364.9 293.3,364.4 293.7,363.8 294.6,363.7 295.0,363.1 295.6,362.7 295.8,361.9 296.0,361.1 296.6,360.7 297.2,360.3 296.9,359.0 297.6,358.7 298.2,358.3 298.7,357.8 299.3,357.4 299.5,356.6 300.1,356.2 300.3,355.4 300.7,354.8 301.1,354.2 301.6,353.7 301.8,352.9 302.3,352.4 302.9,352.0 303.7,351.8 304.1,351.2 304.8,350.9 305.1,350.2 305.8,349.9 306.1,349.2 306.3,348.4 306.7,347.8 307.6,347.7 308.4,347.5 308.9,347.0 309.4,346.5 309.9,346.0 310.0,345.1 311.0,345.1 311.2,344.3 311.4,343.5 311.8,342.9 312.0,342.1 312.5,341.6 313.2,341.3 313.6,340.7 314.1,340.2 314.4,339.5 314.5,338.6 314.7,337.8 315.7,337.8 316.1,337.2 316.1,336.2 316.3,335.4 316.6,334.7 317.2,334.3 317.6,333.7 318.4,333.5 319.3,333.4 319.9,333.0 320.4,332.5 321.2,332.3 321.5,331.6 321.9,331.0 321.9,330.0 322.6,329.7 322.9,329.0 323.5,328.6 324.7,328.8 324.9,328.0 325.3,327.4 325.6,326.7 325.9,326.0 326.7,325.8 326.9,325.0 327.5,324.6 328.2,324.3 329.0,324.1 329.2,323.3 329.4,322.5 330.3,322.4 330.4,321.5 331.0,321.1 331.9,321.0 332.0,320.1 332.3,319.4 333.1,319.2 333.3,318.4 334.0,318.1 334.8,317.9 335.3,317.4 335.8,316.9 336.3,316.4 336.6,315.7 337.3,315.4 338.0,315.1 338.6,314.7 339.2,314.3 339.4,313.5 339.7,312.8 339.7,311.8 340.1,311.2 340.8,310.9 341.4,310.5 341.8,309.9 342.2,309.3 342.6,308.7 343.4,308.5 343.5,307.6 344.3,307.4 344.9,307.0 345.0,306.1 345.6,305.7 346.2,305.3 346.5,304.6 347.4,304.5 347.6,303.7 348.0,303.1 348.5,302.6 349.1,302.2 349.5,301.6 350.2,301.3 350.5,300.6 351.1,300.2 351.6,299.7 352.1,299.2 352.4,298.5 352.9,298.0 353.0,297.1 353.1,296.2 353.6,295.7 354.3,295.4 354.5,294.6 355.1,294.2 356.2,294.3 356.8,293.9 357.5,293.6 357.9,293.0 357.9,292.0 358.3,291.4 358.8,290.9 359.1,290.2 359.6,289.7 359.9,289.0 360.7,288.8 361.2,288.3 361.7,287.8 362.3,287.4 362.8,286.9 363.7,286.8 363.9,286.0 364.3,285.4 364.8,284.9 365.3,284.4 365.5,283.6 366.3,283.4 366.8,282.9 367.5,282.6 367.9,282.0 368.3,281.4 368.9,281.0 369.3,280.4 369.7,279.8 370.3,279.4 371.0,279.1 371.5,278.6 372.1,278.2 372.5,277.6 373.1,277.2 373.4,276.5 374.1,276.2 374.3,275.4 374.9,275.0 375.7,274.8 376.3,274.4 376.4,273.5 377.3,273.4 377.7,272.8 377.6,271.7 378.6,271.7 378.9,271.0 379.6,270.7 380.1,270.2 381.1,270.2 382.0,270.1 382.1,269.2 382.7,268.8 382.9,268.0 383.4,267.5 383.9,267.0 384.3,266.4 384.6,265.7 385.2,265.3 386.0,265.1 386.7,264.8 387.8,264.9 388.3,264.4 388.7,263.8 389.3,263.4 389.3,262.4 389.9,262.0 390.3,261.4 390.6,260.7 391.0,260.1 391.3,259.4 392.0,259.1 392.2,258.3 392.5,257.6 393.1,257.2 393.6,256.7 394.4,256.5 395.0,256.1 396.0,256.1 396.7,255.8 396.9,255.0 397.4,254.5 398.3,254.4 398.5,253.6 398.8,252.9 398.9,252.0 399.4,251.5 400.2,251.3 401.1,251.2 401.6,250.7 401.8,249.9 402.4,249.5 402.9,249.0 403.7,248.8 404.4,248.5 405.3,248.4 405.8,247.9 406.5,247.6 407.1,247.2 407.7,246.8 408.5,246.6 408.7,245.8 409.0,245.1 409.0,244.1 409.6,243.7 410.4,243.5 411.0,243.1 411.9,243.0 412.4,242.5 412.6,241.7 413.0,241.1 413.4,240.5 413.7,239.8 414.3,239.4 414.3,238.4 414.4,237.5 414.6,236.7 415.1,236.2 415.1,235.2 415.7,234.8 416.3,234.4 416.4,233.5 416.5,232.6 416.8,231.9 416.7,230.8 417.4,230.5 417.8,229.9 418.5,229.6 418.8,228.9 419.3,228.4 419.9,228.0 420.9,228.0 421.3,227.4 422.3,227.4 423.1,227.2 423.8,226.9 424.1,226.2 424.8,225.9 425.4,225.5 426.2,225.3 426.7,224.8 427.2,224.3 428.0,224.1 428.6,223.7 429.1,223.2 429.6,222.7 430.2,222.3 430.7,221.8 431.1,221.2 432.0,221.1 432.4,220.5 432.3,219.4 433.0,219.1 433.8,218.9 434.5,218.6 435.2,218.3 435.2,217.3 435.5,216.6 436.0,216.1 436.5,215.6 437.1,215.2 437.3,214.4 437.7,213.8 438.1,213.2 438.9,213.0 440.0,213.1 440.1,212.2 440.6,211.7 440.8,210.9 441.5,210.6 442.0,210.1 442.6,209.7 443.0,209.1 443.2,208.3 443.4,207.5 443.7,206.8 444.3,206.4 445.2,206.3 445.8,205.9 446.2,205.3 447.0,205.1 447.5,204.6 447.9,204.0 448.4,203.5 448.7,202.8 448.9,202.0 449.2,201.3 449.8,200.9 450.4,200.5 450.7,199.8 451.3,199.4 451.5,198.6 452.4,198.5 452.9,198.0 453.3,197.4 454.1,197.2 454.7,196.8 455.0,196.1 456.0,196.1 456.4,195.5 457.0,195.1 457.4,194.5 458.1,194.2 458.8,193.9 459.1,193.2 459.4,192.5 460.2,192.3 460.6,191.7 461.3,191.4 461.8,190.9 462.4,190.5 462.9,190.0 463.2,189.3 464.0,189.1 464.3,188.4 464.8,187.9 465.2,187.3 466.0,187.1 466.2,186.3 466.7,185.8 467.1,185.2 467.5,184.6 467.8,183.9 467.5,182.6 467.8,181.9 468.6,181.7 469.0,181.1 469.4,180.5 469.8,179.9 470.4,179.5 470.9,179.0 471.2,178.3 471.8,177.9 472.5,177.6 473.1,177.2 473.6,176.7 473.7,175.8 473.8,174.9 474.3,174.4 474.6,173.7 475.0,173.1 475.5,172.6 476.2,172.3 477.4,172.5 477.7,171.8 478.2,171.3 479.4,171.5 479.7,170.8 480.4,170.5 480.7,169.8 481.7,169.8 482.1,169.2 483.0,169.1 483.9,169.0 484.5,168.6 484.8,167.9 485.4,167.5 486.1,167.2 487.0,167.1 487.9,167.0 488.4,166.5 489.5,166.6 490.3,166.4 491.0,166.1 491.5,165.6 491.8,164.9 491.9,164.0 492.3,163.4 492.8,162.9 493.7,162.8 494.4,162.5 494.5,161.6 495.1,161.2 495.2,160.3 496.1,160.2 497.1,160.2 497.5,159.6 497.8,158.9 498.5,158.6 498.9,158.0 499.5,157.6 499.9,157.0 500.2,156.3 500.8,155.9 501.6,155.7 502.2,155.3 502.6,154.7 503.1,154.2 503.9,154.0 504.7,153.8 505.3,153.4 505.6,152.7 506.4,152.5 507.0,152.1 507.7,151.8 508.9,152.0 510.0,152.1 510.2,151.3 510.7,150.8 511.4,150.5 511.6,149.7 511.8,148.9 512.4,148.5 512.9,148.0 513.5,147.6 514.2,147.3 514.6,146.7 515.2,146.3 515.7,145.8 516.5,145.6 516.6,144.7 517.3,144.4 517.4,143.5 517.5,142.6 518.2,142.3 518.8,141.9 519.4,141.5 520.0,141.1 520.6,140.7 520.9,140.0 521.6,139.7 522.5,139.6 522.7,138.8 523.3,138.4 523.7,137.8 524.1,137.2 524.7,136.8 525.4,136.5 525.5,135.6 525.6,134.7 526.4,134.5 527.1,134.2 528.3,134.4 529.0,134.1 530.1,134.2 530.8,133.9 531.3,133.4 532.1,133.2 532.8,132.9 533.5,132.6 533.6,131.7 534.4,131.5 535.1,131.2 535.8,130.9 536.5,130.6 537.4,130.5 538.0,130.1 538.4,129.5 539.2,129.3 540.0,129.1 540.5,128.6 540.9,128.0 541.3,127.4 541.6,126.7 541.8,125.9 542.5,125.6 542.8,124.9 543.4,124.5 543.7,123.8 544.3,123.4 544.7,122.8 545.5,122.6 546.1,122.2 546.7,121.8 547.0,121.1 547.3,120.4 547.7,119.8 548.2,119.3 548.5,118.6 549.2,118.3 549.8,117.9 550.3,117.4 551.3,117.4 551.9,117.0 552.1,116.2 552.6,115.7 553.2,115.3 553.7,114.8 554.4,114.5 554.8,113.9 555.4,113.5 556.0,113.1 556.7,112.8 557.2,112.3 557.7,111.8 558.3,111.4 559.0,111.1 559.5,110.6 560.1,110.2 560.3,109.4 561.3,109.4 561.6,108.7 562.8,108.9 563.4,108.5 564.3,108.4 564.7,107.8 565.4,107.5 566.1,107.2 566.6,106.7 566.9,106.0 567.4,105.5 567.6,104.7 568.6,104.7 568.9,104.0 569.9,104.0 570.4,103.5 570.5,102.6 571.6,102.7 572.4,102.5 572.8,101.9 573.2,101.3 573.6,100.7 574.4,100.5 574.5,99.6 574.9,99.0 575.7,98.8 576.7,98.8 577.0,98.1 577.4,97.5 577.7,96.8 578.4,96.5 578.7,95.8 579.1,95.2 579.7,94.8 580.4,94.5 581.1,94.2 581.3,93.4 581.8,92.9 582.4,92.5 583.1,92.2 584.0,92.1 584.7,91.8 585.0,91.1 585.6,90.7 585.9,90.0 586.8,89.9 587.4,89.5 588.0,89.1 588.7,88.8 589.2,88.3 590.0,88.1 590.9,88.0 591.7,87.8 592.5,87.6 592.4,86.5 593.1,86.2 594.0,86.1 594.9,86.0 594.8,84.9 595.8,84.9 596.8,84.9 597.5,84.6 598.1,84.2 598.9,84.0 599.4,83.5 600.0,83.1 600.4,82.5 601.5,82.6 602.3,82.4 602.9,82.0 603.4,81.5 604.3,81.4 604.9,81.0 605.6,80.7 606.2,80.3 606.8,79.9 607.6,79.7 608.6,79.7 608.9,79.0 609.4,78.5 610.1,78.2 610.5,77.6 611.1,77.2 612.0,77.1 612.8,76.9 613.6,76.7 614.5,76.6 615.3,76.4 616.0,76.1 616.9,76.0 617.4,75.5 617.8,74.9 618.6,74.7 619.0,74.1 619.7,73.7 620.2,73.2 621.1,73.1 621.9,72.9 622.9,72.9 623.5,72.4 623.7,71.7 624.7,71.7 625.9,71.8 626.4,71.3 626.9,70.7 627.1,70.0 628.2,70.1 628.6,69.5 629.5,69.3 630.3,69.1 630.9,68.7 631.6,68.4 632.2,68.0 633.2,67.9 634.3,68.1 635.5,68.2 635.9,67.5 636.3,67.0 637.0,66.6 637.9,66.5 638.9,66.5 639.1,65.7 640.0,65.6 641.0,65.6 641.8,65.3 642.6,65.1 642.9,64.4 644.0,64.5 644.9,64.4 645.6,64.1 646.3,63.7 647.3,63.7 648.4,63.8 649.1,63.5 649.5,62.9 650.4,62.8 651.1,62.4 651.8,62.1 652.5,61.8 653.1,61.4 654.1,61.4 654.6,60.9 655.6,60.8 656.2,60.4 656.9,60.1 657.6,59.8 658.4,59.6 659.0,59.2 659.8,59.0 660.5,58.7 661.2,58.4 661.4,57.5"/>
<polyline fill="none" stroke="#F3B2BF" stroke-width="3.05" stroke-linejoin="round" stroke-linecap="round" points="105.9,613.0 106.4,612.5 106.9,612.0 107.3,611.5 107.9,611.0 108.3,610.5 108.8,609.9 109.2,609.4 109.5,608.6 110.1,608.3 110.4,607.6 110.7,606.8 111.0,606.2 111.7,605.9 112.0,605.1 112.9,605.1 113.4,604.6 113.8,604.0 114.3,603.6 114.8,603.0 114.9,602.2 115.2,601.5 115.7,600.9 116.5,600.8 117.0,600.3 117.5,599.8 117.4,598.6 117.7,598.0 118.1,597.4 118.9,597.2 119.7,597.0 120.1,596.4 120.6,596.0 121.0,595.3 121.2,594.5 121.6,593.9 121.9,593.2 122.4,592.7 123.0,592.3 123.3,591.7 124.0,591.4 124.1,590.5 124.5,589.9 125.0,589.4 124.9,588.3 125.4,587.8 126.0,587.4 126.8,587.3 127.2,586.6 127.8,586.2 128.3,585.8 128.3,584.8 128.8,584.2 128.8,583.3 129.3,582.8 129.9,582.4 130.4,581.8 130.2,580.7 131.0,580.5 131.4,579.9 132.1,579.6 132.3,578.8 132.5,578.0 133.4,578.0 133.8,577.3 134.0,576.5 134.3,575.8 134.9,575.5 134.9,574.4 135.1,573.7 135.3,572.8 136.3,572.8 136.9,572.5 137.2,571.8 137.6,571.2 137.9,570.5 138.1,569.8 138.4,569.1 139.2,568.9 139.5,568.1 139.8,567.4 140.2,566.9 141.0,566.6 141.5,566.1 141.6,565.2 142.0,564.7 142.4,564.1 142.5,563.1 142.7,562.4 143.2,561.9 143.5,561.2 144.3,561.0 144.9,560.6 145.2,559.9 145.6,559.3 145.8,558.6 146.1,557.9 146.8,557.5 147.3,557.0 147.2,556.0 147.4,555.1 148.0,554.8 148.2,554.0 148.6,553.4 149.3,553.1 149.7,552.5 150.0,551.8 150.4,551.2 151.0,550.9 151.2,550.1 151.3,549.1 151.7,548.5 152.5,548.3 152.9,547.8 153.6,547.5 154.3,547.2 154.3,546.2 154.7,545.6 155.0,544.9 155.3,544.2 156.0,543.9 156.7,543.6 157.3,543.2 157.9,542.9 158.2,542.1 158.8,541.7 158.9,540.9 159.3,540.2 159.4,539.4 160.2,539.1 160.5,538.5 161.1,538.1 161.2,537.2 161.7,536.7 162.3,536.3 162.8,535.8 163.2,535.2 163.7,534.7 164.0,534.1 164.3,533.4 164.5,532.5 165.2,532.2 165.6,531.6 166.0,531.1 166.5,530.5 166.6,529.6 166.6,528.7 166.7,527.7 167.5,527.6 167.8,526.9 168.4,526.5 168.3,525.4 168.5,524.6 168.9,524.0 169.0,523.1 169.6,522.7 169.8,521.9 170.1,521.2 170.7,520.8 171.4,520.5 171.7,519.8 171.9,519.0 172.2,518.3 172.8,517.9 172.8,516.9 172.9,516.0 173.1,515.2 173.7,514.8 174.2,514.3 174.4,513.5 174.6,512.7 175.0,512.1 175.3,511.4 175.5,510.6 175.7,509.8 176.1,509.2 176.4,508.5 176.8,507.9 177.2,507.3 177.4,506.5 178.0,506.1 178.5,505.6 178.4,504.5 178.9,504.0 179.2,503.3 179.3,502.4 179.9,502.0 180.3,501.4 180.8,500.9 181.0,500.1 181.8,499.9 182.3,499.4 182.5,498.6 183.3,498.4 183.5,497.6 184.3,497.4 184.6,496.7 184.9,496.0 185.1,495.2 185.3,494.4 185.6,493.7 186.2,493.3 186.6,492.7 186.7,491.8 187.2,491.3 187.3,490.4 187.9,490.0 188.2,489.3 188.5,488.6 189.2,488.3 189.0,487.1 189.9,487.0 191.1,487.2 191.7,486.8 192.2,486.3 192.3,485.4 193.0,485.1 193.3,484.4 193.6,483.7 193.8,482.9 194.6,482.7 195.3,482.4 195.4,481.5 195.8,480.9 196.0,480.1 196.8,479.9 197.0,479.1 197.5,478.6 198.2,478.3 198.7,477.8 198.9,477.0 199.3,476.4 199.4,475.5 200.3,475.4 201.0,475.1 201.1,474.2 201.2,473.3 202.3,473.4 202.9,473.0 203.2,472.3 203.9,472.0 204.4,471.5 205.1,471.2 205.4,470.5 206.3,470.4 206.8,469.9 207.0,469.1 207.4,468.5 207.8,467.9 208.4,467.5 209.0,467.1 209.5,466.6 209.8,465.9 210.3,465.4 210.7,464.8 211.6,464.7 211.8,463.9 212.2,463.3 212.5,462.6 212.7,461.8 213.3,461.4 213.8,460.9 214.3,460.4 215.2,460.3 215.4,459.5 216.0,459.1 216.4,458.5 216.9,458.0 217.0,457.1 217.0,456.1 217.6,455.7 217.7,454.8 218.3,454.4 219.0,454.1 219.1,453.2 219.5,452.6 219.8,451.9 220.4,451.5 221.2,451.3 221.6,450.7 222.0,450.1 222.6,449.7 222.6,448.7 222.8,447.9 223.3,447.4 223.5,446.6 224.2,446.3 224.3,445.4 224.5,444.6 224.9,444.0 225.5,443.6 225.6,442.7 225.9,442.0 226.4,441.5 226.9,441.0 227.5,440.6 227.8,439.9 228.0,439.1 227.8,437.9 227.9,437.0 228.3,436.4 228.4,435.5 228.7,434.8 229.4,434.5 229.7,433.8 230.4,433.5 231.0,433.1 231.4,432.5 232.0,432.1 232.7,431.8 232.8,430.9 233.6,430.7 233.7,429.8 234.2,429.3 234.6,428.7 235.0,428.1 235.6,427.7 236.0,427.1 236.5,426.6 237.1,426.2 237.4,425.5 238.0,425.1 238.3,424.4 239.0,424.1 239.2,423.3 239.8,422.9 240.2,422.3 241.0,422.1 241.3,421.4 242.0,421.1 242.4,420.5 242.4,419.5 243.1,419.2 243.7,418.8 244.5,418.6 244.7,417.8 245.3,417.4 246.0,417.1 246.4,416.5 247.5,416.6 247.8,415.9 248.4,415.5 248.6,414.7 248.8,413.9 249.2,413.3 249.6,412.7 250.2,412.3 250.9,412.0 250.8,410.9 251.4,410.5 251.8,409.9 251.9,409.0 252.3,408.4 253.0,408.1 253.7,407.8 253.8,406.9 254.2,406.3 254.7,405.8 255.6,405.7 256.0,405.1 256.4,404.5 256.9,404.0 256.8,402.9 257.4,402.5 258.1,402.2 258.8,401.9 258.8,400.9 259.9,401.0 260.6,400.7 261.1,400.2 261.5,399.6 262.2,399.3 262.7,398.8 263.1,398.2 263.8,397.9 263.9,397.0 264.6,396.7 264.8,395.9 265.3,395.4 266.0,395.1 266.5,394.6 267.1,394.2 267.4,393.5 267.6,392.7 268.2,392.3 268.6,391.7 268.7,390.8 268.9,390.0 269.1,389.2 269.7,388.8 270.2,388.3 271.0,388.1 271.0,387.1 271.4,386.5 271.8,385.9 271.7,384.8 272.0,384.1 272.6,383.7 272.8,382.9 272.9,382.0 273.8,381.9 273.9,381.0 274.7,380.8 275.2,380.3 275.7,379.8 276.0,379.1 276.2,378.3 277.0,378.1 278.0,378.1 278.3,377.4 279.1,377.2 279.7,376.8 280.5,376.6 281.1,376.2 281.5,375.6 281.7,374.8 281.9,374.0 282.4,373.5 282.9,373.0 283.2,372.3 283.3,371.4 283.6,370.7 284.2,370.3 284.9,370.0 285.5,369.6 286.0,369.1 286.6,368.7 286.7,367.8 287.5,367.6 287.9,367.0 288.1,366.2 288.3,365.4 288.4,364.5 288.7,363.8 289.4,363.5 289.6,362.7 290.3,362.4 290.7,361.8 290.7,360.8 290.8,359.9 291.0,359.1 291.2,358.3 292.1,358.2 293.1,358.2 293.5,357.6 294.0,357.1 294.2,356.3 294.9,356.0 295.1,355.2 295.4,354.5 295.8,353.9 296.5,353.6 297.0,353.1 296.9,352.0 297.4,351.5 297.8,350.9 298.4,350.5 299.2,350.3 299.2,349.3 299.7,348.8 300.4,348.5 300.5,347.6 301.3,347.4 301.9,347.0 302.5,346.6 302.8,345.9 303.3,345.4 304.0,345.1 304.3,344.4 304.6,343.7 304.9,343.0 305.5,342.6 306.1,342.2 306.8,341.9 307.4,341.5 307.8,340.9 308.3,340.4 308.7,339.8 309.4,339.5 309.7,338.8 310.0,338.1 310.5,337.6 310.6,336.7 311.2,336.3 312.0,336.1 312.7,335.8 313.3,335.4 313.9,335.0 314.4,334.5 314.8,333.9 315.0,333.1 315.6,332.7 316.3,332.4 317.2,332.3 317.6,331.7 318.2,331.3 318.8,330.9 319.2,330.3 319.6,329.7 320.1,329.2 320.6,328.7 321.5,328.6 321.7,327.8 321.9,327.0 322.2,326.3 322.8,325.9 323.5,325.6 323.8,324.9 324.6,324.7 324.8,323.9 325.7,323.8 326.3,323.4 327.0,323.1 327.2,322.3 327.9,322.0 328.4,321.5 328.7,320.8 328.8,319.9 329.5,319.6 330.1,319.2 330.5,318.6 331.2,318.3 331.9,318.0 332.6,317.7 332.8,316.9 333.4,316.5 333.9,316.0 334.2,315.3 334.6,314.7 334.9,314.0 335.6,313.7 336.0,313.1 336.5,312.6 337.1,312.2 337.9,312.0 338.5,311.6 338.5,310.6 339.3,310.4 339.8,309.9 340.5,309.6 340.9,309.0 341.3,308.4 341.4,307.5 341.9,307.0 342.5,306.6 342.9,306.0 343.2,305.3 343.5,304.6 343.9,304.0 344.4,303.5 345.0,303.1 345.4,302.5 345.9,302.0 346.0,301.1 346.7,300.8 347.1,300.2 347.2,299.3 347.4,298.5 347.7,297.8 348.4,297.5 348.8,296.9 349.6,296.7 350.1,296.2 350.2,295.3 350.4,294.5 351.2,294.3 351.4,293.5 351.6,292.7 351.8,291.9 351.9,291.0 352.5,290.6 353.1,290.2 353.3,289.4 354.1,289.2 354.8,288.9 355.1,288.2 355.2,287.3 355.5,286.6 355.9,286.0 356.5,285.6 356.8,284.9 357.5,284.6 358.6,284.7 359.0,284.1 359.3,283.4 360.2,283.3 361.3,283.4 361.4,282.5 361.9,282.0 362.1,281.2 362.9,281.0 363.6,280.7 364.0,280.1 364.8,279.9 365.7,279.8 365.6,278.7 365.7,277.8 366.1,277.2 366.6,276.7 367.2,276.3 367.7,275.8 368.5,275.6 368.9,275.0 369.1,274.2 369.2,273.3 369.0,272.1 369.3,271.4 369.8,270.9 369.9,270.0 370.5,269.6 370.6,268.7 371.2,268.3 371.6,267.7 372.5,267.6 373.1,267.2 373.6,266.7 374.0,266.1 374.3,265.4 374.6,264.7 374.9,264.0 375.0,263.1 375.8,262.9 376.5,262.6 377.1,262.2 377.6,261.7 377.6,260.7 377.2,259.3 377.6,258.7 377.9,258.0 378.2,257.3 378.6,256.7 379.0,256.1 379.0,255.1 379.4,254.5 379.9,254.0 380.8,253.9 381.5,253.6 382.2,253.3 382.9,253.0 383.3,252.4 383.8,251.9 384.6,251.7 384.6,250.7 384.9,250.0 385.6,249.7 385.8,248.9 385.8,247.9 386.3,247.4 386.9,247.0 387.3,246.4 387.8,245.9 387.7,244.8 388.8,244.9 388.9,244.0 389.0,243.1 389.5,242.6 390.0,242.1 390.3,241.4 390.7,240.8 391.3,240.4 391.7,239.8 391.9,239.0 392.4,238.5 392.9,238.0 393.4,237.5 393.9,237.0 394.1,236.2 394.7,235.8 395.4,235.5 396.0,235.1 396.1,234.2 396.7,233.8 397.6,233.7 398.3,233.4 398.7,232.8 399.3,232.4 399.8,231.9 400.3,231.4 401.0,231.1 401.6,230.7 402.0,230.1 403.0,230.1 403.9,230.0 404.0,229.1 404.6,228.7 405.1,228.2 405.0,227.1 405.3,226.4 406.1,226.2 406.7,225.8 407.3,225.4 407.9,225.0 408.5,224.6 408.9,224.0 409.0,223.1 409.1,222.2 409.4,221.5 410.1,221.2 410.8,220.9 411.5,220.6 411.9,220.0 412.1,219.2 412.9,219.0 413.6,218.7 414.2,218.3 414.7,217.8 415.0,217.1 415.8,216.9 415.7,215.8 416.1,215.2 416.7,214.8 417.2,214.3 418.1,214.2 418.7,213.8 419.0,213.1 419.4,212.5 419.3,211.4 420.1,211.2 420.7,210.8 421.4,210.5 421.6,209.7 421.8,208.9 422.5,208.6 422.8,207.9 423.3,207.4 424.1,207.2 424.7,206.8 425.2,206.3 425.7,205.8 426.0,205.1 426.7,204.8 427.2,204.3 428.3,204.4 428.9,204.0 429.0,203.1 429.4,202.5 429.7,201.8 430.5,201.6 431.0,201.1 431.2,200.3 431.7,199.8 432.5,199.6 433.3,199.4 433.9,199.0 434.5,198.6 434.8,197.9 435.2,197.3 435.8,196.9 436.2,196.3 436.9,196.0 437.2,195.3 438.1,195.2 438.6,194.7 438.9,194.0 439.3,193.4 439.8,192.9 440.5,192.6 441.2,192.3 441.7,191.8 442.4,191.5 442.7,190.8 443.3,190.4 444.1,190.2 444.8,189.9 445.2,189.3 445.7,188.8 446.4,188.5 447.0,188.1 447.2,187.3 447.6,186.7 448.1,186.2 448.8,185.9 449.3,185.4 450.3,185.4 450.6,184.7 451.5,184.6 452.0,184.1 452.7,183.8 453.2,183.3 453.9,183.0 454.1,182.2 455.1,182.2 455.6,181.7 456.1,181.2 456.2,180.3 456.8,179.9 457.2,179.3 458.0,179.1 458.6,178.7 459.1,178.2 459.3,177.4 460.2,177.3 460.6,176.7 461.4,176.5 462.2,176.3 463.0,176.1 463.2,175.3 463.5,174.6 463.9,174.0 464.2,173.3 464.9,173.0 465.5,172.6 466.1,172.2 466.7,171.8 467.3,171.4 468.0,171.1 468.5,170.6 468.9,170.0 469.8,169.9 470.3,169.4 470.5,168.6 470.6,167.7 471.3,167.4 471.8,166.9 472.3,166.4 472.6,165.7 473.2,165.3 474.0,165.1 474.7,164.8 475.0,164.1 475.6,163.7 476.2,163.3 476.5,162.6 476.7,161.8 476.9,161.0 477.9,161.0 478.8,160.9 479.3,160.4 479.8,159.9 480.6,159.7 481.3,159.4 482.0,159.1 482.3,158.4 482.6,157.7 483.1,157.2 483.9,157.0 484.6,156.7 485.1,156.2 485.5,155.6 486.4,155.5 486.8,154.9 487.4,154.5 488.0,154.1 488.7,153.8 489.7,153.8 489.8,152.9 489.6,151.7 490.3,151.4 491.1,151.2 491.9,151.0 492.6,150.7 493.2,150.3 493.7,149.8 494.7,149.8 495.1,149.2 495.9,149.0 496.5,148.6 497.1,148.2 497.4,147.5 498.0,147.1 498.4,146.5 498.6,145.7 499.0,145.1 499.1,144.2 499.9,144.0 500.2,143.3 500.6,142.7 501.5,142.6 502.2,142.3 502.6,141.7 503.3,141.4 503.9,141.0 504.5,140.6 504.8,139.9 505.5,139.6 506.1,139.2 506.5,138.6 506.7,137.8 507.2,137.3 507.5,136.6 508.0,136.1 508.5,135.6 508.8,134.9 509.7,134.8 510.4,134.5 510.5,133.6 511.4,133.5 511.7,132.8 511.7,131.8 512.2,131.3 512.9,131.0 513.8,130.9 514.1,130.2 514.6,129.7 515.1,129.2 515.9,129.0 516.6,128.7 517.1,128.2 517.7,127.8 518.3,127.4 518.8,126.9 519.2,126.3 519.6,125.7 520.5,125.6 521.0,125.1 521.6,124.7 522.1,124.2 522.7,123.8 523.1,123.2 523.8,122.9 524.3,122.4 525.1,122.2 525.2,121.3 526.2,121.3 526.8,120.9 527.1,120.2 527.9,120.0 528.4,119.5 529.0,119.1 529.6,118.7 530.2,118.3 530.8,117.9 531.2,117.3 531.7,116.8 532.4,116.5 533.2,116.3 533.9,116.0 534.4,115.5 535.0,115.1 535.7,114.8 536.3,114.4 536.9,114.0 537.7,113.8 538.2,113.3 539.0,113.1 539.4,112.5 539.9,112.0 540.5,111.6 541.0,111.1 542.0,111.1 542.3,110.4 542.9,110.0 543.5,109.6 544.2,109.3 544.6,108.7 544.9,108.0 545.4,107.5 545.9,107.0 546.5,106.6 547.4,106.5 548.4,106.5 549.1,106.2 549.6,105.7 550.4,105.5 551.0,105.1 551.4,104.5 551.9,104.0 552.8,103.9 553.5,103.6 553.9,103.0 554.7,102.8 555.1,102.2 555.6,101.7 556.2,101.3 556.8,100.9 557.3,100.4 557.8,99.9 558.2,99.3 558.5,98.6 559.2,98.3 560.0,98.1 560.4,97.5 561.1,97.2 561.8,96.9 562.1,96.2 562.9,96.0 563.7,95.8 564.3,95.4 564.7,94.8 565.5,94.6 566.2,94.3 566.7,93.8 566.8,92.9 567.8,92.9 567.9,92.0 568.6,91.7 568.7,90.8 569.3,90.4 569.8,89.9 570.5,89.6 571.3,89.4 572.2,89.3 572.6,88.7 573.5,88.6 574.3,88.4 574.8,87.9 575.5,87.6 576.0,87.1 576.8,86.9 577.2,86.3 578.0,86.1 579.0,86.1 579.6,85.7 580.4,85.5 581.7,85.8 583.1,86.2 583.6,85.7 584.3,85.4 584.5,84.6 584.8,83.9 585.9,84.0 586.5,83.6 587.0,83.1 587.5,82.6 588.3,82.4 588.6,81.7 588.9,81.0 589.3,80.4 589.6,79.7 590.1,79.2 590.9,79.0 591.2,78.3 591.7,77.8 592.5,77.6 593.0,77.1 593.2,76.3 593.8,75.9 594.4,75.5 595.3,75.4 595.8,74.9 596.6,74.7 597.4,74.5 597.5,73.6 598.1,73.2 599.2,73.3 599.6,72.7 600.7,72.8 601.3,72.4 601.7,71.8 601.9,71.0 602.5,70.6 603.0,70.1 604.3,70.4 604.6,69.7 605.6,69.7 606.4,69.5 607.5,69.6 608.0,69.1 608.9,69.0 609.4,68.5 610.5,68.6 611.7,68.8 612.6,68.7 613.5,68.5 614.5,68.6 615.6,68.6 616.3,68.3 616.6,67.6 617.3,67.3 617.6,66.6 618.3,66.2 619.7,66.7 620.9,66.8 621.6,66.5 622.5,66.3 623.6,66.5 624.4,66.2 624.6,65.5 624.9,64.7 625.9,64.7 627.0,64.7 627.9,64.7 628.7,64.5 629.4,64.2 630.1,63.8 630.6,63.3 631.3,63.0 632.1,62.7 632.5,62.1 633.6,62.3 634.5,62.1 635.5,62.1 636.2,61.8 637.1,61.6 637.9,61.5 638.7,61.2 639.6,61.1 641.3,61.8 642.4,61.9 643.7,62.1 644.7,62.2 645.7,62.2 646.5,61.9 647.6,62.0 648.3,61.7 649.3,61.7 649.8,61.2 650.5,60.9 651.3,60.6 652.3,60.6 652.9,60.2 653.8,60.0 654.6,59.9 655.5,59.8 656.3,59.6 657.1,59.3 657.9,59.1 658.6,58.8 659.4,58.6 660.2,58.4 661.1,58.2 661.4,57.5"/>
<polyline fill="none" stroke="#E61E8A" stroke-width="3.05" stroke-linejoin="round" stroke-linecap="round" points="105.9,613.0 106.3,612.4 106.7,611.8 107.0,611.1 107.4,610.5 107.7,609.9 108.3,609.4 108.6,608.8 109.0,608.1 109.2,607.4 109.7,606.9 109.9,606.1 110.2,605.4 110.7,604.9 111.1,604.3 111.1,603.3 111.8,603.0 112.1,602.4 112.6,601.8 112.9,601.2 113.6,600.8 113.8,600.0 113.8,599.1 114.2,598.4 114.8,598.0 115.0,597.3 115.5,596.7 116.1,596.4 116.0,595.3 116.6,594.9 117.2,594.5 117.3,593.7 117.6,592.9 117.8,592.1 118.4,591.7 118.5,590.9 119.0,590.4 119.7,590.1 119.7,589.0 120.1,588.5 120.5,587.9 120.8,587.2 121.3,586.7 121.7,586.1 121.7,585.1 121.9,584.3 122.3,583.7 122.5,583.0 122.6,582.0 123.6,582.0 124.4,581.8 125.1,581.5 125.5,580.9 125.4,579.8 125.7,579.2 126.2,578.7 126.5,578.0 126.8,577.2 127.2,576.7 128.1,576.6 128.6,576.1 129.0,575.5 129.2,574.7 129.9,574.4 130.3,573.9 130.7,573.2 130.9,572.5 131.1,571.7 131.5,571.1 132.3,570.9 132.7,570.2 133.1,569.7 133.2,568.8 133.5,568.1 133.4,567.0 134.0,566.6 134.2,565.8 134.6,565.2 134.9,564.5 135.5,564.1 135.9,563.6 136.4,563.1 136.4,562.0 136.4,561.1 136.5,560.2 136.7,559.3 136.8,558.5 137.4,558.1 137.8,557.5 138.2,556.9 138.4,556.1 138.5,555.2 138.6,554.3 139.2,554.0 139.7,553.4 140.2,553.0 140.7,552.4 140.9,551.6 141.3,551.0 141.1,549.9 141.7,549.5 142.1,548.9 142.6,548.4 143.0,547.8 143.6,547.4 143.9,546.7 144.4,546.2 144.6,545.4 145.0,544.8 145.5,544.3 146.2,544.0 146.6,543.4 146.7,542.5 146.7,541.5 147.0,540.9 147.3,540.2 147.9,539.7 148.7,539.6 148.9,538.8 149.7,538.6 150.4,538.3 150.6,537.5 150.9,536.8 151.5,536.4 151.7,535.6 151.8,534.8 152.4,534.4 152.7,533.6 152.9,532.9 153.5,532.4 153.9,531.8 154.3,531.3 155.0,531.0 155.7,530.7 155.6,529.6 156.2,529.2 156.5,528.5 156.9,527.9 157.5,527.5 158.3,527.3 158.8,526.8 159.2,526.2 159.7,525.7 159.7,524.8 160.3,524.3 160.8,523.8 160.9,523.0 161.0,522.1 161.1,521.2 161.4,520.5 161.9,520.0 162.3,519.4 162.5,518.6 162.8,517.9 163.5,517.6 163.8,516.9 163.9,516.0 164.7,515.8 164.8,514.9 165.2,514.3 165.6,513.7 165.9,513.0 166.1,512.2 166.7,511.8 167.0,511.1 167.4,510.5 167.7,509.8 168.4,509.5 168.5,508.6 168.5,507.6 168.6,506.7 168.9,506.0 169.2,505.3 169.6,504.7 169.9,504.0 170.4,503.5 170.4,502.5 170.5,501.6 170.8,500.9 171.0,500.1 171.2,499.3 171.5,498.6 171.7,497.8 172.1,497.2 172.7,496.8 173.3,496.4 173.8,495.9 174.0,495.1 174.1,494.2 174.2,493.3 174.3,492.4 174.8,491.9 175.7,491.8 176.1,491.2 176.6,490.7 176.6,489.7 177.0,489.1 177.4,488.5 177.9,488.0 178.2,487.3 178.5,486.6 178.8,485.9 179.1,485.2 180.1,485.2 180.7,484.8 180.9,484.0 181.2,483.3 181.6,482.7 182.5,482.6 182.5,481.6 183.1,481.2 183.7,480.8 184.6,480.7 185.5,480.6 185.9,480.0 186.0,479.1 186.2,478.3 186.6,477.7 187.0,477.1 187.4,476.5 187.6,475.7 188.2,475.3 188.8,474.9 189.2,474.3 189.6,473.7 189.9,473.0 190.2,472.3 191.2,472.3 191.6,471.7 192.0,471.1 192.8,470.9 193.2,470.3 193.7,469.8 193.9,469.0 194.3,468.4 194.3,467.4 194.9,467.0 195.8,466.9 196.3,466.4 196.9,466.0 197.6,465.7 198.4,465.5 198.6,464.7 198.9,464.0 199.3,463.4 200.1,463.2 200.4,462.5 200.7,461.8 201.2,461.3 201.7,460.8 202.2,460.3 202.7,459.8 203.5,459.6 203.8,458.9 204.8,458.9 205.4,458.5 206.1,458.2 206.3,457.4 207.0,457.1 207.2,456.3 207.5,455.6 208.2,455.3 208.8,454.9 209.1,454.2 209.2,453.3 210.0,453.1 210.6,452.7 211.4,452.5 212.2,452.3 213.1,452.2 213.1,451.2 212.9,450.0 213.6,449.7 213.8,448.9 214.6,448.7 215.2,448.3 215.8,447.9 216.3,447.4 216.4,446.5 216.8,445.9 217.3,445.4 217.8,444.9 218.8,444.9 219.1,444.2 219.7,443.8 220.6,443.7 220.8,442.9 221.1,442.2 221.3,441.4 221.5,440.6 221.5,439.6 222.1,439.2 222.9,439.0 223.4,438.5 223.7,437.8 224.0,437.1 224.4,436.5 224.6,435.7 225.0,435.1 225.2,434.3 225.8,433.9 226.3,433.4 226.7,432.8 226.7,431.8 226.9,431.0 227.4,430.5 228.2,430.3 228.4,429.5 229.4,429.5 229.6,428.7 229.8,427.9 230.2,427.3 230.4,426.5 230.8,425.9 231.1,425.2 231.4,424.5 231.7,423.8 232.2,423.3 232.9,423.0 233.9,423.0 234.3,422.4 234.4,421.5 234.7,420.8 234.8,419.9 235.3,419.4 235.6,418.7 236.1,418.2 236.5,417.6 236.9,417.0 237.3,416.4 238.1,416.2 238.1,415.2 238.8,414.9 239.5,414.6 240.0,414.1 240.5,413.6 241.0,413.1 241.2,412.3 241.4,411.5 241.9,411.0 242.5,410.6 243.1,410.2 243.5,409.6 244.1,409.2 244.7,408.8 245.6,408.7 246.0,408.1 245.9,407.0 246.1,406.2 246.7,405.8 246.8,404.9 247.4,404.5 247.7,403.8 248.2,403.3 248.7,402.8 248.9,402.0 249.5,401.6 250.2,401.3 250.5,400.6 250.8,399.9 251.0,399.1 251.6,398.7 252.2,398.3 252.5,397.6 252.8,396.9 253.4,396.5 253.8,395.9 254.6,395.7 255.1,395.2 255.4,394.5 255.5,393.6 255.8,392.9 255.9,392.0 256.4,391.5 257.3,391.4 257.5,390.6 257.6,389.7 257.8,388.9 258.2,388.3 258.4,387.5 259.1,387.2 259.8,386.9 260.1,386.2 260.5,385.6 260.7,384.8 261.3,384.4 262.1,384.2 262.3,383.4 262.6,382.7 262.7,381.8 263.2,381.3 263.7,380.8 263.9,380.0 264.2,379.3 265.1,379.2 266.0,379.1 266.1,378.2 266.5,377.6 266.8,376.9 267.2,376.3 267.3,375.4 267.9,375.0 268.5,374.6 269.2,374.3 269.2,373.3 270.1,373.2 270.3,372.4 270.3,371.4 271.0,371.1 271.6,370.7 272.0,370.1 272.6,369.7 273.2,369.3 273.7,368.8 273.9,368.0 274.2,367.3 274.6,366.7 275.3,366.4 276.1,366.2 276.5,365.6 276.8,364.9 277.0,364.1 277.7,363.8 278.0,363.1 279.0,363.1 279.5,362.6 280.0,362.1 280.7,361.8 281.2,361.3 281.5,360.6 282.0,360.1 282.7,359.8 283.1,359.2 283.6,358.7 284.2,358.3 284.4,357.5 284.8,356.9 285.3,356.4 285.7,355.8 286.4,355.5 287.1,355.2 287.1,354.2 287.6,353.7 288.2,353.3 288.7,352.8 289.4,352.5 290.1,352.2 290.2,351.3 290.8,350.9 291.1,350.2 291.0,349.1 291.6,348.7 291.9,348.0 292.3,347.4 292.9,347.0 293.6,346.7 293.9,346.0 294.0,345.1 294.2,344.3 294.8,343.9 295.0,343.1 295.8,342.9 296.5,342.6 296.6,341.7 297.3,341.4 297.5,340.6 297.8,339.9 298.0,339.1 298.1,338.2 298.4,337.5 298.9,337.0 299.8,336.9 300.5,336.6 300.8,335.9 301.3,335.4 302.0,335.1 302.4,334.5 302.7,333.8 303.2,333.3 303.5,332.6 304.1,332.2 304.5,331.6 305.4,331.5 305.8,330.9 306.0,330.1 306.7,329.8 307.1,329.2 307.3,328.4 307.8,327.9 308.0,327.1 308.0,326.1 308.2,325.3 308.9,325.0 309.8,324.9 310.2,324.3 310.9,324.0 311.1,323.2 311.9,323.0 312.6,322.7 313.5,322.6 314.1,322.2 314.8,321.9 315.0,321.1 315.7,320.8 316.2,320.3 316.9,320.0 317.8,319.9 317.8,318.9 318.5,318.6 319.1,318.2 319.7,317.8 320.5,317.6 320.9,317.0 320.9,316.0 321.2,315.3 321.6,314.7 321.5,313.6 322.2,313.3 322.7,312.8 322.9,312.0 323.3,311.4 323.8,310.9 324.2,310.3 324.5,309.6 325.1,309.2 325.5,308.6 326.3,308.4 326.7,307.8 327.4,307.5 328.0,307.1 328.0,306.1 328.4,305.5 328.8,304.9 329.3,304.4 329.8,303.9 330.5,303.6 331.1,303.2 331.4,302.5 332.1,302.2 332.5,301.6 333.1,301.2 333.4,300.5 333.5,299.6 333.7,298.8 334.6,298.7 335.3,298.4 335.7,297.8 336.4,297.5 336.7,296.8 337.0,296.1 337.1,295.2 337.5,294.6 338.1,294.2 339.2,294.3 339.7,293.8 340.2,293.3 340.9,293.0 341.6,292.7 342.0,292.1 342.2,291.3 343.0,291.1 343.3,290.4 344.0,290.1 344.5,289.6 345.1,289.2 345.9,289.0 346.1,288.2 347.3,288.4 347.6,287.7 348.0,287.1 348.9,287.0 348.8,285.9 349.2,285.3 349.9,285.0 350.5,284.6 351.1,284.2 351.5,283.6 352.0,283.1 352.4,282.5 353.3,282.4 353.8,281.9 353.9,281.0 354.1,280.2 354.7,279.8 355.3,279.4 355.3,278.4 355.6,277.7 355.4,276.5 355.6,275.7 356.4,275.5 357.0,275.1 357.4,274.5 357.5,273.6 357.9,273.0 358.4,272.5 358.9,272.0 359.4,271.5 359.9,271.0 359.8,269.9 360.1,269.2 360.4,268.5 360.5,267.6 361.2,267.3 361.4,266.5 361.9,266.0 362.4,265.5 362.9,265.0 363.3,264.4 363.6,263.7 364.1,263.2 364.7,262.8 364.9,262.0 365.7,261.8 366.0,261.1 366.7,260.8 367.1,260.2 368.0,260.1 368.9,260.0 369.8,259.9 370.9,260.0 371.4,259.5 371.2,258.3 371.4,257.5 371.7,256.8 372.5,256.6 373.4,256.5 373.8,255.9 374.5,255.6 375.0,255.1 375.4,254.5 376.0,254.1 376.2,253.3 376.9,253.0 377.6,252.7 378.5,252.6 379.2,252.3 379.8,251.9 380.5,251.6 381.0,251.1 381.5,250.6 381.6,249.7 381.9,249.0 382.3,248.4 383.0,248.1 383.8,247.9 384.7,247.8 385.1,247.2 385.5,246.6 385.8,245.9 385.9,245.0 386.6,244.7 386.7,243.8 387.4,243.5 387.8,242.9 388.3,242.4 389.1,242.2 389.4,241.5 390.0,241.1 390.4,240.5 390.9,240.0 391.4,239.5 391.9,239.0 392.2,238.3 392.6,237.7 393.2,237.3 393.6,236.7 394.2,236.3 394.9,236.0 395.4,235.5 395.7,234.8 396.3,234.4 396.6,233.7 397.2,233.3 397.7,232.8 398.5,232.6 398.9,232.0 399.1,231.2 399.7,230.8 400.1,230.2 400.9,230.0 401.1,229.2 401.4,228.5 401.7,227.8 402.1,227.2 402.5,226.6 403.6,226.7 404.0,226.1 404.7,225.8 405.0,225.1 405.3,224.4 405.7,223.8 406.6,223.7 407.1,223.2 407.8,222.9 408.2,222.3 408.7,221.8 409.9,222.0 410.2,221.3 410.3,220.4 410.9,220.0 411.3,219.4 411.5,218.6 411.6,217.7 412.3,217.4 412.8,216.9 413.2,216.3 413.9,216.0 414.6,215.7 415.1,215.2 415.8,214.9 415.8,213.9 416.3,213.4 416.4,212.5 416.7,211.8 417.4,211.5 417.8,210.9 418.6,210.7 419.3,210.4 419.9,210.0 420.1,209.2 420.5,208.6 421.1,208.2 421.9,208.0 422.4,207.5 422.6,206.7 423.4,206.5 423.6,205.7 424.1,205.2 424.1,204.2 424.8,203.9 425.6,203.7 426.4,203.5 426.7,202.8 427.4,202.5 428.1,202.2 428.7,201.8 429.5,201.6 430.2,201.3 431.2,201.3 431.5,200.6 432.1,200.2 432.8,199.9 433.0,199.1 433.6,198.7 434.1,198.2 434.4,197.5 435.0,197.1 435.5,196.6 436.2,196.3 436.5,195.6 437.3,195.4 437.8,194.9 438.2,194.3 438.8,193.9 439.7,193.8 440.0,193.1 440.4,192.5 440.8,191.9 441.2,191.3 441.1,190.2 442.0,190.1 442.8,189.9 443.7,189.8 444.2,189.3 444.4,188.5 444.7,187.8 445.4,187.5 446.0,187.1 446.4,186.5 447.0,186.1 447.4,185.5 447.9,185.0 448.7,184.8 449.3,184.4 449.7,183.8 450.3,183.4 450.8,182.9 451.6,182.7 452.5,182.6 453.4,182.5 453.9,182.0 454.3,181.4 455.4,181.5 455.9,181.0 456.3,180.4 457.1,180.2 457.3,179.4 458.2,179.3 459.1,179.2 459.7,178.8 459.4,177.5 459.9,177.0 460.5,176.6 461.1,176.2 462.2,176.3 462.4,175.5 462.8,174.9 463.5,174.6 464.0,174.1 464.8,173.9 465.3,173.4 465.6,172.7 465.9,172.0 466.4,171.5 466.8,170.9 467.5,170.6 468.2,170.3 468.2,169.3 469.0,169.1 469.4,168.5 469.6,167.7 470.7,167.8 471.2,167.3 471.7,166.8 472.4,166.5 472.6,165.7 473.2,165.3 473.8,164.9 474.1,164.2 474.7,163.8 475.4,163.5 476.0,163.1 476.0,162.1 476.4,161.5 477.0,161.1 477.9,161.0 478.5,160.6 479.1,160.2 479.3,159.4 479.9,159.0 481.0,159.1 481.5,158.6 481.9,158.0 482.5,157.6 483.2,157.3 483.6,156.7 484.2,156.3 484.5,155.6 485.0,155.1 485.5,154.6 486.0,154.1 486.3,153.4 487.3,153.4 487.8,152.9 488.6,152.7 488.8,151.9 489.3,151.4 489.7,150.8 490.8,150.9 491.6,150.7 492.1,150.2 492.8,149.9 493.5,149.6 494.2,149.3 494.4,148.5 494.5,147.6 495.1,147.2 495.7,146.8 496.4,146.5 497.4,146.5 498.0,146.1 498.7,145.8 499.3,145.4 499.5,144.6 499.9,144.0 500.3,143.4 501.0,143.1 502.0,143.1 502.8,142.9 503.4,142.5 503.6,141.7 504.5,141.6 505.0,141.1 505.1,140.2 505.8,139.9 506.5,139.6 507.2,139.3 507.9,139.0 508.4,138.5 508.9,138.0 509.3,137.4 509.9,137.0 510.5,136.6 511.2,136.3 511.6,135.7 512.5,135.6 513.0,135.1 513.0,134.1 513.8,133.9 514.6,133.7 515.4,133.5 515.9,133.0 516.3,132.4 516.6,131.7 517.3,131.4 518.0,131.1 518.7,130.8 519.4,130.5 519.7,129.8 520.3,129.4 521.0,129.1 521.5,128.6 522.5,128.6 522.5,127.6 523.2,127.3 523.7,126.8 524.3,126.4 524.9,126.0 525.4,125.5 526.1,125.2 526.7,124.8 527.0,124.1 527.7,123.8 528.5,123.6 528.9,123.0 529.6,122.7 530.3,122.4 531.0,122.1 531.6,121.7 532.1,121.2 532.8,120.9 532.9,120.0 533.9,120.0 534.4,119.5 534.8,118.9 535.6,118.7 536.1,118.2 537.0,118.1 538.1,118.2 538.9,118.0 539.5,117.6 539.8,116.9 540.5,116.6 540.9,116.0 541.6,115.7 541.5,114.6 542.0,114.1 542.5,113.6 542.9,113.0 543.6,112.7 544.5,112.6 544.5,111.6 545.4,111.5 545.9,111.0 546.5,110.6 547.2,110.3 547.6,109.7 548.2,109.3 548.9,109.0 549.2,108.3 549.9,108.0 550.7,107.8 551.2,107.3 551.7,106.8 552.2,106.3 552.7,105.8 553.2,105.3 553.5,104.6 554.1,104.2 554.5,103.6 555.1,103.2 556.1,103.2 556.9,103.0 557.4,102.5 558.1,102.2 558.6,101.7 559.0,101.1 559.7,100.8 560.6,100.7 561.3,100.4 561.9,100.0 562.3,99.4 562.8,98.9 563.5,98.6 564.2,98.3 565.0,98.1 565.5,97.6 565.4,96.5 566.2,96.3 567.0,96.1 568.0,96.1 569.0,96.1 569.8,95.9 570.3,95.4 570.6,94.7 571.1,94.2 571.5,93.6 571.8,92.9 572.4,92.5 573.3,92.4 573.8,91.9 574.5,91.6 575.3,91.4 575.7,90.8 576.3,90.4 576.7,89.8 577.0,89.1 577.8,88.9 578.6,88.7 579.4,88.5 580.1,88.2 580.5,87.6 581.4,87.5 581.6,86.7 582.3,86.4 582.9,86.0 583.2,85.3 584.1,85.2 585.1,85.2 585.7,84.8 586.2,84.3 586.9,84.0 587.5,83.6 588.7,83.8 589.1,83.2 589.6,82.7 590.3,82.4 590.9,82.0 591.5,81.6 592.0,81.1 592.7,80.8 593.7,80.8 594.1,80.2 595.0,80.1 595.5,79.6 595.9,79.0 596.8,78.9 597.6,78.7 598.5,78.6 599.4,78.5 599.9,78.0 600.4,77.5 601.1,77.2 601.6,76.7 602.3,76.4 603.4,76.5 603.7,75.8 604.1,75.2 605.0,75.1 606.0,75.1 606.6,74.7 607.4,74.5 608.0,74.1 608.6,73.7 609.3,73.4 610.2,73.3 610.6,72.7 610.9,72.0 611.6,71.7 612.2,71.3 613.1,71.2 613.8,70.9 614.4,70.5 615.1,70.1 616.5,70.6 617.2,70.2 617.7,69.7 618.0,69.0 618.8,68.8 619.9,68.9 620.6,68.6 621.4,68.3 622.1,68.0 622.9,67.8 623.5,67.4 624.4,67.3 625.2,67.1 626.1,66.9 627.3,67.1 627.9,66.7 628.7,66.5 629.3,66.1 630.1,65.8 631.0,65.7 632.2,66.0 633.0,65.7 633.8,65.5 634.7,65.4 635.4,65.0 636.2,64.8 636.5,64.1 637.5,64.1 638.5,64.1 639.5,64.0 640.7,64.2 641.6,64.2 642.7,64.3 643.7,64.2 644.6,64.1 645.5,64.0 646.6,64.0 647.6,64.0 648.1,63.5 648.7,63.1 649.5,62.8 650.0,62.4 650.7,62.1 651.4,61.7 652.0,61.3 652.8,61.1 653.9,61.2 654.9,61.2 655.9,61.1 656.8,61.0 657.2,60.4 658.1,60.3 658.8,60.0 659.3,59.5 660.0,59.1 660.6,58.7 661.2,58.4 661.4,57.5"/>
<polyline fill="none" stroke="#787B26" stroke-width="3.05" stroke-linejoin="round" stroke-linecap="round" points="105.9,613.0 106.1,612.2 106.4,611.5 106.7,610.8 106.9,610.1 107.3,609.4 107.5,608.7 107.9,608.0 108.3,607.5 108.7,606.9 109.2,606.4 109.1,605.3 109.7,604.9 110.1,604.2 110.3,603.4 110.7,602.9 110.8,602.0 110.9,601.2 110.9,600.1 111.2,599.4 111.3,598.5 111.5,597.7 112.1,597.4 112.5,596.8 112.6,595.9 113.1,595.4 113.7,595.0 114.1,594.3 114.4,593.7 114.7,593.0 114.8,592.1 115.4,591.7 115.8,591.1 116.1,590.4 116.4,589.8 116.7,589.1 117.4,588.8 117.7,588.0 117.6,587.0 118.0,586.3 118.6,585.9 119.1,585.5 119.4,584.8 119.3,583.7 120.3,583.7 120.4,582.8 120.8,582.3 121.2,581.6 121.5,580.9 121.8,580.2 121.9,579.3 122.0,578.5 122.3,577.8 122.7,577.1 123.7,577.2 123.8,576.3 124.5,576.0 124.9,575.4 125.2,574.7 125.2,573.7 125.6,573.1 125.7,572.2 126.2,571.7 126.6,571.1 126.6,570.2 127.3,569.8 127.5,569.1 127.8,568.4 128.2,567.7 128.4,566.9 128.9,566.4 129.5,566.1 129.8,565.4 130.3,564.9 131.0,564.6 131.5,564.1 131.7,563.3 132.3,562.9 132.6,562.3 132.9,561.6 132.9,560.5 133.3,560.0 133.5,559.1 133.9,558.6 133.8,557.4 133.9,556.5 134.6,556.3 135.5,556.2 136.0,555.7 136.5,555.2 136.3,554.0 136.8,553.5 137.0,552.7 136.9,551.6 137.0,550.7 137.0,549.8 137.5,549.3 137.9,548.7 138.8,548.6 139.5,548.3 139.8,547.6 140.3,547.0 140.2,546.0 140.8,545.6 141.0,544.8 141.4,544.2 141.8,543.6 142.1,543.0 142.4,542.2 143.0,541.8 143.5,541.4 143.2,540.1 143.4,539.3 143.8,538.6 144.0,537.8 144.3,537.2 144.9,536.8 145.2,536.1 145.5,535.4 146.0,534.9 146.4,534.3 146.8,533.7 147.6,533.5 148.2,533.1 148.2,532.2 148.9,531.9 149.1,531.0 149.5,530.4 149.4,529.3 150.0,528.9 149.9,527.9 150.4,527.4 151.4,527.3 151.9,526.9 152.3,526.3 152.5,525.5 152.8,524.8 153.5,524.5 153.3,523.3 153.4,522.5 154.2,522.2 154.5,521.5 155.2,521.2 155.8,520.8 155.9,520.0 156.3,519.4 157.1,519.2 157.4,518.5 157.8,517.9 158.4,517.5 158.6,516.7 159.0,516.1 159.5,515.6 159.8,514.9 160.2,514.3 160.8,513.9 161.7,513.8 162.0,513.1 162.3,512.4 163.4,512.5 164.1,512.2 163.9,511.0 164.1,510.2 164.1,509.2 164.6,508.7 164.6,507.7 164.7,506.8 165.4,506.5 165.5,505.6 165.7,504.8 166.0,504.1 166.5,503.6 166.9,503.0 167.5,502.6 167.5,501.6 167.8,500.9 167.6,499.7 167.8,498.9 168.0,498.1 168.7,497.8 169.0,497.1 169.2,496.3 169.4,495.5 169.5,494.6 169.7,493.8 169.9,493.0 170.3,492.4 170.5,491.6 170.9,491.0 171.6,490.7 171.7,489.8 172.0,489.1 172.1,488.2 173.1,488.2 174.1,488.2 174.7,487.8 175.3,487.4 175.7,486.8 176.5,486.6 177.1,486.2 177.8,485.9 178.4,485.5 178.2,484.3 178.3,483.4 178.7,482.8 179.3,482.4 179.5,481.6 180.0,481.1 180.3,480.4 180.4,479.5 180.9,479.0 180.9,478.0 180.8,476.9 181.5,476.6 182.1,476.2 182.4,475.5 183.0,475.1 183.0,474.1 183.2,473.3 183.5,472.6 183.8,471.9 184.2,471.3 184.1,470.2 184.6,469.7 184.5,468.6 184.8,467.9 185.8,467.9 186.3,467.4 186.5,466.6 186.9,466.0 187.0,465.1 187.1,464.2 187.2,463.3 187.5,462.6 187.8,461.9 188.3,461.4 189.2,461.3 189.6,460.7 190.0,460.1 190.0,459.1 190.6,458.7 191.0,458.1 191.8,457.9 192.2,457.3 193.0,457.1 193.3,456.4 193.6,455.7 194.0,455.1 194.4,454.5 195.0,454.1 195.5,453.6 195.5,452.6 195.8,451.9 196.1,451.2 196.7,450.8 197.1,450.2 197.8,449.9 198.5,449.6 199.0,449.1 198.9,448.0 199.9,448.0 200.5,447.6 200.8,446.9 201.4,446.5 201.7,445.8 202.2,445.3 202.4,444.5 203.4,444.5 203.8,443.9 204.3,443.4 204.6,442.7 205.2,442.3 206.0,442.1 206.5,441.6 206.7,440.8 207.2,440.3 207.6,439.7 208.2,439.3 208.7,438.8 209.2,438.3 209.6,437.7 209.9,437.0 210.4,436.5 211.1,436.2 211.6,435.7 212.2,435.3 212.5,434.6 212.9,434.0 213.1,433.2 213.5,432.6 213.9,432.0 213.8,430.9 214.0,430.1 214.1,429.2 214.4,428.5 214.8,427.9 215.5,427.6 215.9,427.0 216.1,426.2 216.4,425.5 216.6,424.7 216.8,423.9 217.3,423.4 217.4,422.5 217.8,421.9 218.4,421.5 218.6,420.7 218.9,420.0 219.6,419.7 220.0,419.1 220.3,418.4 220.8,417.9 221.1,417.2 221.2,416.3 221.8,415.9 222.0,415.1 222.2,414.3 222.6,413.7 223.2,413.3 223.8,412.9 224.0,412.1 224.4,411.5 224.8,410.9 225.4,410.5 226.0,410.1 226.2,409.3 226.9,409.0 227.0,408.1 227.4,407.5 227.3,406.4 228.0,406.1 228.4,405.5 229.0,405.1 230.1,405.2 230.6,404.7 231.0,404.1 231.3,403.4 231.8,402.9 232.1,402.2 232.7,401.8 233.3,401.4 233.8,400.9 234.2,400.3 234.6,399.7 235.0,399.1 235.4,398.5 236.0,398.1 236.3,397.4 236.6,396.7 237.2,396.3 238.0,396.1 238.5,395.6 238.9,395.0 239.3,394.4 240.2,394.3 240.5,393.6 240.8,392.9 241.2,392.3 241.5,391.6 241.8,390.9 242.4,390.5 242.7,389.8 242.7,388.8 243.2,388.3 243.8,387.9 244.0,387.1 244.8,386.9 245.2,386.3 245.6,385.7 245.5,384.6 246.4,384.5 247.2,384.3 247.8,383.9 248.5,383.6 248.6,382.7 248.8,381.9 249.2,381.3 249.5,380.6 249.6,379.7 250.0,379.1 250.6,378.7 250.9,378.0 251.7,377.8 252.2,377.3 252.5,376.6 252.7,375.8 252.8,374.9 253.4,374.5 253.5,373.6 254.1,373.2 254.7,372.8 254.8,371.9 255.3,371.4 255.8,370.9 256.6,370.7 257.1,370.2 257.5,369.6 258.0,369.1 258.7,368.8 258.9,368.0 259.1,367.2 259.7,366.8 260.6,366.7 260.6,365.7 261.4,365.5 261.9,365.0 262.5,364.6 263.0,364.1 263.3,363.4 263.5,362.6 264.5,362.6 264.5,361.6 265.0,361.1 265.7,360.8 266.1,360.2 266.7,359.8 267.1,359.2 267.2,358.3 267.8,357.9 268.2,357.3 268.4,356.5 268.9,356.0 269.2,355.3 269.7,354.8 269.9,354.0 270.7,353.8 271.3,353.4 271.7,352.8 272.1,352.2 272.4,351.5 272.7,350.8 272.9,350.0 273.7,349.8 273.9,349.0 274.6,348.7 275.3,348.4 275.7,347.8 276.1,347.2 276.3,346.4 276.7,345.8 277.1,345.2 277.9,345.0 278.3,344.4 278.7,343.8 279.4,343.5 279.6,342.7 280.0,342.1 281.0,342.1 281.6,341.7 282.4,341.5 282.4,340.5 282.9,340.0 283.5,339.6 283.8,338.9 284.7,338.8 285.0,338.1 285.6,337.7 286.3,337.4 287.0,337.1 287.6,336.7 287.9,336.0 288.6,335.7 289.0,335.1 289.9,335.0 290.4,334.5 290.7,333.8 291.6,333.7 292.6,333.7 293.3,333.4 293.7,332.8 293.9,332.0 294.3,331.4 295.0,331.1 295.7,330.8 295.8,329.9 296.4,329.5 296.5,328.6 297.2,328.3 298.2,328.3 298.6,327.7 299.3,327.4 299.7,326.8 300.1,326.2 300.8,325.9 301.5,325.6 301.9,325.0 302.8,324.9 303.3,324.4 303.0,323.1 303.7,322.8 304.4,322.5 304.2,321.3 304.7,320.8 305.4,320.5 306.0,320.1 306.3,319.4 306.5,318.6 307.0,318.1 307.4,317.5 308.0,317.1 308.5,316.6 309.3,316.4 309.6,315.7 310.1,315.2 310.6,314.7 311.0,314.1 311.6,313.7 311.6,312.7 311.9,312.0 312.8,311.9 313.4,311.5 313.8,310.9 314.4,310.5 314.8,309.9 314.9,309.0 315.3,308.4 315.9,308.0 316.2,307.3 317.0,307.1 317.4,306.5 317.8,305.9 318.0,305.1 318.9,305.0 319.8,304.9 319.9,304.0 320.3,303.4 320.5,302.6 321.1,302.2 321.5,301.6 322.1,301.2 322.5,300.6 322.7,299.8 323.4,299.5 323.9,299.0 324.2,298.3 324.3,297.4 324.8,296.9 325.4,296.5 325.7,295.8 326.6,295.7 327.4,295.5 327.8,294.9 328.3,294.4 328.6,293.7 329.2,293.3 329.3,292.4 329.4,291.5 330.5,291.6 330.9,291.0 331.6,290.7 331.9,290.0 332.5,289.6 332.9,289.0 332.9,288.0 333.3,287.4 333.8,286.9 334.3,286.4 335.1,286.2 335.8,285.9 336.0,285.1 336.3,284.4 336.9,284.0 337.5,283.6 338.1,283.2 338.4,282.5 339.1,282.2 339.6,281.7 339.8,280.9 339.9,280.0 340.1,279.2 340.6,278.7 340.9,278.0 341.3,277.4 341.5,276.6 342.0,276.1 342.7,275.8 343.3,275.4 343.4,274.5 344.1,274.2 344.9,274.0 345.1,273.2 346.0,273.1 346.4,272.5 346.5,271.6 347.3,271.4 347.7,270.8 347.9,270.0 348.8,269.9 349.6,269.7 350.0,269.1 350.2,268.3 350.7,267.8 351.2,267.3 351.9,267.0 351.8,265.9 352.3,265.4 352.9,265.0 353.3,264.4 353.9,264.0 354.6,263.7 354.7,262.8 354.9,262.0 355.3,261.4 355.7,260.8 356.2,260.3 356.7,259.8 357.7,259.8 358.0,259.1 358.5,258.6 359.2,258.3 359.5,257.6 359.8,256.9 360.4,256.5 360.9,256.0 361.1,255.2 361.7,254.8 362.3,254.4 362.8,253.9 363.5,253.6 363.6,252.7 364.2,252.3 364.6,251.7 365.0,251.1 365.4,250.5 365.6,249.7 366.1,249.2 367.1,249.2 367.6,248.7 368.4,248.5 368.6,247.7 368.9,247.0 369.3,246.4 369.7,245.8 369.9,245.0 370.5,244.6 371.1,244.2 371.7,243.8 372.2,243.3 372.5,242.6 372.8,241.9 373.4,241.5 373.7,240.8 374.4,240.5 375.0,240.1 375.9,240.0 376.2,239.3 376.9,239.0 377.0,238.1 377.7,237.8 378.3,237.4 379.0,237.1 379.0,236.1 379.8,235.9 380.2,235.3 380.6,234.7 380.7,233.8 381.0,233.1 381.7,232.8 382.6,232.7 383.2,232.3 383.5,231.6 384.1,231.2 384.2,230.3 384.5,229.6 384.8,228.9 385.5,228.6 385.5,227.6 385.8,226.9 386.2,226.3 386.8,225.9 386.9,225.0 387.3,224.4 387.3,223.4 388.1,223.2 388.6,222.7 389.1,222.2 389.5,221.6 390.5,221.6 391.1,221.2 391.4,220.5 392.2,220.3 392.8,219.9 393.3,219.4 393.6,218.7 394.1,218.2 394.8,217.9 395.3,217.4 395.8,216.9 396.5,216.6 396.9,216.0 397.6,215.7 398.1,215.2 398.3,214.4 399.1,214.2 399.9,214.0 400.3,213.4 400.7,212.8 401.5,212.6 402.2,212.3 402.3,211.4 402.7,210.8 403.4,210.5 403.8,209.9 404.6,209.7 405.1,209.2 405.8,208.9 406.4,208.5 407.1,208.2 407.7,207.8 408.2,207.3 408.5,206.6 409.3,206.4 409.8,205.9 410.0,205.1 411.0,205.1 411.4,204.5 412.3,204.4 412.3,203.4 412.9,203.0 413.5,202.6 413.8,201.9 414.7,201.8 414.9,201.0 415.5,200.6 415.9,200.0 416.6,199.7 416.9,199.0 417.4,198.5 417.9,198.0 417.9,197.0 419.2,197.3 419.7,196.8 420.3,196.4 421.0,196.1 421.5,195.6 421.8,194.9 421.8,193.9 422.2,193.3 422.7,192.8 423.3,192.4 423.9,192.0 424.5,191.6 425.0,191.1 425.6,190.7 426.3,190.4 426.8,189.9 427.6,189.7 427.7,188.8 428.2,188.3 428.9,188.0 429.4,187.5 429.7,186.8 430.2,186.3 430.7,185.8 431.2,185.3 432.2,185.3 433.1,185.2 433.5,184.6 434.1,184.2 435.1,184.2 435.5,183.6 436.2,183.3 436.6,182.7 436.9,182.0 437.4,181.5 437.9,181.0 438.8,180.9 439.1,180.2 440.0,180.1 440.5,179.6 441.0,179.1 441.2,178.3 441.3,177.4 441.8,176.9 442.2,176.3 442.8,175.9 443.3,175.4 443.4,174.5 443.9,174.0 444.6,173.7 445.3,173.4 446.0,173.1 446.7,172.8 447.3,172.4 447.9,172.0 448.5,171.6 449.1,171.2 449.6,170.7 450.1,170.2 451.1,170.2 451.3,169.4 451.3,168.4 451.9,168.0 452.2,167.3 452.7,166.8 453.2,166.3 453.7,165.8 454.0,165.1 454.3,164.4 455.3,164.4 456.0,164.1 456.2,163.3 456.5,162.6 457.2,162.3 457.7,161.8 457.9,161.0 458.4,160.5 459.0,160.1 459.4,159.5 459.9,159.0 460.2,158.3 460.9,158.0 461.9,158.0 462.4,157.5 462.7,156.8 463.4,156.5 463.9,156.0 464.5,155.6 464.8,154.9 465.1,154.2 465.4,153.5 465.8,152.9 466.3,152.4 466.7,151.8 467.7,151.8 468.2,151.3 468.6,150.7 469.2,150.3 470.0,150.1 470.9,150.0 471.2,149.3 471.5,148.6 471.8,147.9 472.4,147.5 473.0,147.1 474.0,147.1 475.0,147.1 475.5,146.6 475.5,145.6 475.8,144.9 476.2,144.3 476.9,144.0 477.7,143.8 478.0,143.1 478.8,142.9 479.7,142.8 479.7,141.8 479.9,141.0 481.0,141.1 481.5,140.6 482.0,140.1 483.6,140.7 484.2,140.3 484.7,139.8 484.7,138.8 485.3,138.4 485.9,138.0 486.3,137.4 487.2,137.3 487.6,136.7 488.5,136.6 489.1,136.2 489.5,135.6 490.2,135.3 491.2,135.3 491.9,135.0 492.1,134.2 492.8,133.9 493.3,133.4 494.1,133.2 494.8,132.9 495.4,132.5 496.2,132.3 496.6,131.7 497.4,131.5 497.9,131.0 498.7,130.8 499.3,130.4 499.8,129.9 500.8,129.9 501.0,129.1 501.9,129.0 502.5,128.6 503.2,128.3 503.9,128.0 504.5,127.6 505.3,127.4 505.7,126.8 505.8,125.9 506.5,125.6 506.9,125.0 507.9,125.0 508.6,124.7 509.4,124.5 509.8,123.9 510.8,123.9 511.3,123.4 511.7,122.8 512.0,122.1 512.5,121.6 513.4,121.5 514.2,121.3 514.9,121.0 515.3,120.4 515.9,120.0 516.9,120.0 517.6,119.7 518.2,119.3 519.2,119.3 519.8,118.9 520.5,118.6 520.7,117.8 521.2,117.3 521.7,116.8 522.3,116.4 523.1,116.2 523.5,115.6 524.3,115.4 525.1,115.2 525.6,114.7 526.3,114.4 527.0,114.1 527.3,113.4 528.2,113.3 528.7,112.8 529.4,112.5 529.6,111.7 530.3,111.4 531.1,111.2 531.6,110.7 532.0,110.1 532.7,109.8 532.9,109.0 533.7,108.8 534.5,108.6 535.2,108.3 536.1,108.2 536.6,107.7 537.2,107.3 537.9,107.0 538.6,106.7 538.9,106.0 539.4,105.5 539.8,104.9 540.4,104.5 541.0,104.1 541.7,103.8 542.5,103.6 543.2,103.3 543.6,102.7 544.5,102.6 545.2,102.3 546.6,102.7 547.2,102.3 547.2,101.3 548.2,101.3 548.5,100.6 549.1,100.2 549.6,99.7 550.2,99.3 551.2,99.3 552.1,99.2 552.8,98.9 553.4,98.5 554.0,98.1 554.7,97.8 555.5,97.6 556.1,97.2 556.3,96.4 557.1,96.2 557.7,95.8 558.1,95.2 558.9,95.0 559.7,94.8 560.3,94.4 561.5,94.6 561.8,93.9 562.4,93.5 563.0,93.1 563.6,92.7 564.4,92.5 564.8,91.9 565.1,91.2 566.1,91.2 566.7,90.8 567.3,90.4 568.1,90.2 568.9,90.0 569.6,89.7 569.9,89.0 570.4,88.5 571.1,88.2 571.9,88.0 572.9,88.0 573.4,87.5 574.2,87.3 574.9,87.0 575.8,86.9 576.0,86.1 576.5,85.6 577.3,85.4 577.8,84.9 578.5,84.6 579.3,84.4 580.2,84.3 580.7,83.8 581.1,83.2 581.7,82.8 582.6,82.7 583.1,82.2 584.2,82.3 585.1,82.2 585.9,82.0 586.3,81.4 587.1,81.2 587.8,80.9 588.5,80.6 588.8,79.9 589.4,79.5 589.9,79.0 590.4,78.5 591.1,78.2 591.6,77.7 592.0,77.1 593.0,77.1 593.7,76.8 594.8,76.9 595.6,76.7 596.1,76.2 596.8,75.9 597.4,75.5 598.0,75.1 598.7,74.8 599.3,74.4 600.1,74.2 600.9,74.0 601.0,73.1 601.6,72.7 602.3,72.4 602.8,71.9 603.7,71.8 604.4,71.5 605.3,71.4 606.3,71.4 607.3,71.4 607.8,70.9 608.5,70.6 609.2,70.3 609.6,69.7 610.3,69.4 611.3,69.4 611.7,68.8 612.6,68.7 613.1,68.2 613.6,67.6 614.4,67.5 615.0,67.0 616.0,67.0 617.0,67.0 617.9,66.9 618.6,66.5 619.4,66.3 620.5,66.4 621.7,66.6 622.4,66.2 622.7,65.5 623.5,65.3 624.4,65.2 625.3,65.1 626.4,65.2 627.0,64.8 627.6,64.4 628.2,63.9 629.2,63.9 630.0,63.7 631.0,63.7 632.0,63.7 633.0,63.6 633.8,63.4 634.7,63.3 635.4,63.0 636.3,62.9 637.2,62.8 638.1,62.7 639.0,62.6 640.0,62.5 640.8,62.3 641.6,62.1 642.3,61.8 642.7,61.2 643.8,61.2 645.0,61.4 645.4,60.8 646.7,61.1 647.8,61.2 648.8,61.2 649.7,61.0 650.5,60.9 651.2,60.6 652.0,60.3 652.9,60.1 653.8,60.1 654.4,59.7 655.3,59.5 656.0,59.3 656.9,59.1 657.6,58.8 658.5,58.7 659.4,58.5 660.2,58.3 661.1,58.2 661.4,57.5"/>
<rect x="83.7" y="35.75" width="600.4" height="599.5" fill="none" stroke="#000" stroke-width="1.85"/>
<line x1="105.9" y1="635.25" x2="105.9" y2="648.6" stroke="#000" stroke-width="1.5"/>
<g transform="translate(105.90,681.00) scale(1,1.04)"><text x="-14.53" y="0" font-size="20.9"> .0</text><path transform="translate(-14.53,0) scale(0.010205,-0.010205)" d="M515,0 L696,0 L696,1409 L530,1409 L197,1180 L197,1010 L515,1237 Z"/></g>
<line x1="217.1" y1="635.25" x2="217.1" y2="648.6" stroke="#000" stroke-width="1.5"/>
<g transform="translate(217.10,681.00) scale(1,1.04)"><text x="-14.53" y="0" font-size="20.9">0.8</text></g>
<line x1="328.3" y1="635.25" x2="328.3" y2="648.6" stroke="#000" stroke-width="1.5"/>
<g transform="translate(328.30,681.00) scale(1,1.04)"><text x="-14.53" y="0" font-size="20.9">0.6</text></g>
<line x1="439.5" y1="635.25" x2="439.5" y2="648.6" stroke="#000" stroke-width="1.5"/>
<g transform="translate(439.50,681.00) scale(1,1.04)"><text x="-14.53" y="0" font-size="20.9">0.4</text></g>
<line x1="550.7" y1="635.25" x2="550.7" y2="648.6" stroke="#000" stroke-width="1.5"/>
<g transform="translate(550.70,681.00) scale(1,1.04)"><text x="-14.53" y="0" font-size="20.9">0.2</text></g>
<line x1="661.9" y1="635.25" x2="661.9" y2="648.6" stroke="#000" stroke-width="1.5"/>
<g transform="translate(661.90,681.00) scale(1,1.04)"><text x="-14.53" y="0" font-size="20.9">0.0</text></g>
<line x1="70.2" y1="613.0" x2="83.7" y2="613.0" stroke="#000" stroke-width="1.5"/>
<g transform="translate(53.00,613.00) rotate(-90) scale(1,1.04)"><text x="-14.53" y="0" font-size="20.9">0.0</text></g>
<line x1="70.2" y1="502.0" x2="83.7" y2="502.0" stroke="#000" stroke-width="1.5"/>
<g transform="translate(53.00,502.00) rotate(-90) scale(1,1.04)"><text x="-14.53" y="0" font-size="20.9">0.2</text></g>
<line x1="70.2" y1="391.0" x2="83.7" y2="391.0" stroke="#000" stroke-width="1.5"/>
<g transform="translate(53.00,391.00) rotate(-90) scale(1,1.04)"><text x="-14.53" y="0" font-size="20.9">0.4</text></g>
<line x1="70.2" y1="280.0" x2="83.7" y2="280.0" stroke="#000" stroke-width="1.5"/>
<g transform="translate(53.00,280.00) rotate(-90) scale(1,1.04)"><text x="-14.53" y="0" font-size="20.9">0.6</text></g>
<line x1="70.2" y1="169.0" x2="83.7" y2="169.0" stroke="#000" stroke-width="1.5"/>
<g transform="translate(53.00,169.00) rotate(-90) scale(1,1.04)"><text x="-14.53" y="0" font-size="20.9">0.8</text></g>
<line x1="70.2" y1="58.0" x2="83.7" y2="58.0" stroke="#000" stroke-width="1.5"/>
<g transform="translate(53.00,58.00) rotate(-90) scale(1,1.04)"><text x="-14.53" y="0" font-size="20.9"> .0</text><path transform="translate(-14.53,0) scale(0.010205,-0.010205)" d="M515,0 L696,0 L696,1409 L530,1409 L197,1180 L197,1010 L515,1237 Z"/></g>
<g transform="translate(383.60,717.50)"><text x="-47.04" y="0" font-size="20.9">Specificity</text></g>
<g transform="translate(15.70,335.50) rotate(-90)"><text x="-47.04" y="0" font-size="20.9">Sensitivity</text></g>
<g transform="translate(369.50,18.60) scale(1,1.03)"><text x="-194.33" y="0" font-size="25.25">ROC Curves for Clinical Predictors</text></g>
<line x1="398.2" y1="437.0" x2="440.2" y2="437.0" stroke="#107777" stroke-width="2.4" stroke-linecap="round"/>
<g transform="translate(461.80,444.20) scale(1,1.04)"><text x="0.00" y="0" font-size="20.9">VAI=0.550</text></g>
<line x1="398.2" y1="464.5" x2="440.2" y2="464.5" stroke="#212D5E" stroke-width="2.4" stroke-linecap="round"/>
<g transform="translate(461.80,471.70) scale(1,1.04)"><text x="0.00" y="0" font-size="20.9">TyG=0.564</text></g>
<line x1="398.2" y1="492.0" x2="440.2" y2="492.0" stroke="#6E1072" stroke-width="2.4" stroke-linecap="round"/>
<g transform="translate(461.80,499.20) scale(1,1.04)"><text x="0.00" y="0" font-size="20.9">TyG-BMI=0.594</text></g>
<line x1="398.2" y1="519.5" x2="440.2" y2="519.5" stroke="#F3B2BF" stroke-width="2.4" stroke-linecap="round"/>
<g transform="translate(461.80,526.70) scale(1,1.04)"><text x="0.00" y="0" font-size="20.9">LAP=0.60 </text><path transform="translate(92.39,0) scale(0.010205,-0.010205)" d="M515,0 L696,0 L696,1409 L530,1409 L197,1180 L197,1010 L515,1237 Z"/></g>
<line x1="398.2" y1="547.0" x2="440.2" y2="547.0" stroke="#E61E8A" stroke-width="2.4" stroke-linecap="round"/>
<g transform="translate(461.80,554.20) scale(1,1.04)"><text x="0.00" y="0" font-size="20.9">TyG-WC=0.6 2</text><path transform="translate(122.51,0) scale(0.010205,-0.010205)" d="M515,0 L696,0 L696,1409 L530,1409 L197,1180 L197,1010 L515,1237 Z"/></g>
<line x1="398.2" y1="574.5" x2="440.2" y2="574.5" stroke="#787B26" stroke-width="2.4" stroke-linecap="round"/>
<g transform="translate(461.80,581.70) scale(1,1.04)"><text x="0.00" y="0" font-size="20.9">TyG-WHtR=0.633</text></g>
</svg>
</body></html>
